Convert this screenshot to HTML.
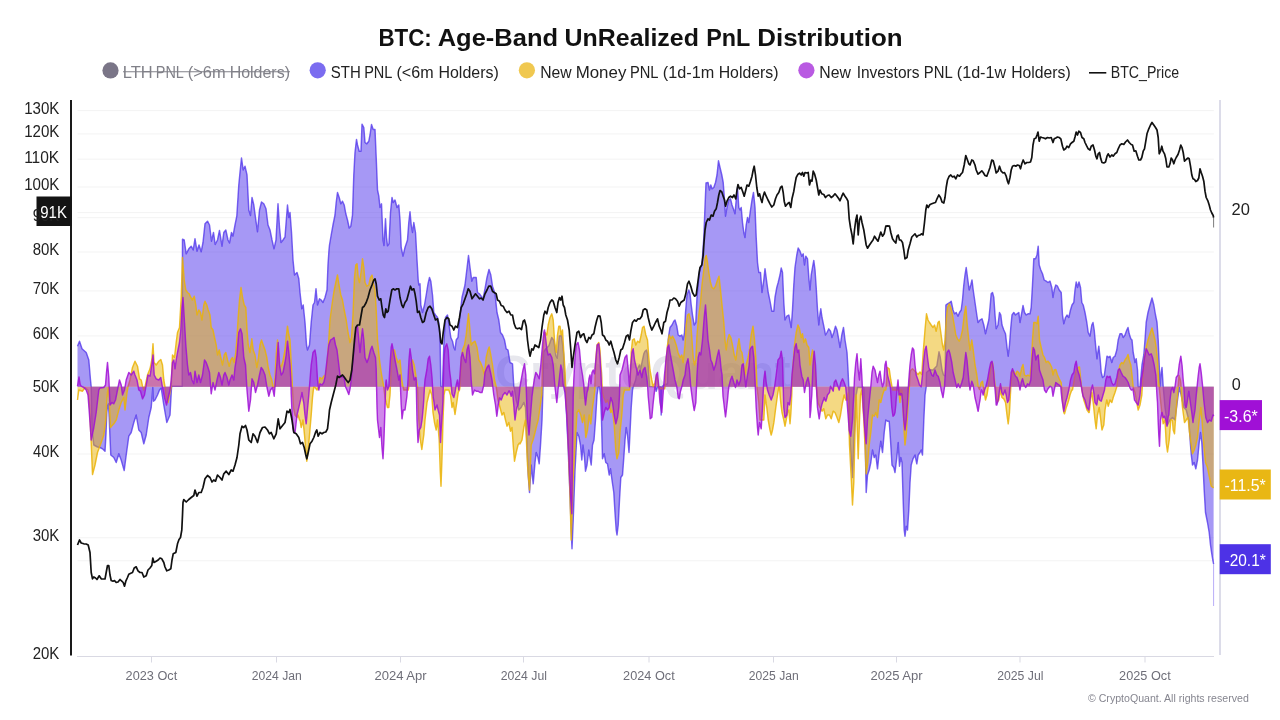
<!DOCTYPE html>
<html lang="en"><head><meta charset="utf-8"><title>BTC: Age-Band UnRealized PnL Distribution</title>
<style>
html,body{margin:0;padding:0;background:#fff;}
body{width:1280px;height:720px;position:relative;overflow:hidden;font-family:"Liberation Sans",sans-serif;}
</style></head><body>
<svg width="1280" height="720" viewBox="0 0 1280 720" style="position:absolute;left:0;top:0">
<rect width="1280" height="720" fill="#fff"/>
<line x1="77.5" x2="1213.8" y1="110.6" y2="110.6" stroke="#f3f3f3" stroke-width="1"/>
<line x1="77.5" x2="1213.8" y1="133.9" y2="133.9" stroke="#f3f3f3" stroke-width="1"/>
<line x1="77.5" x2="1213.8" y1="159.2" y2="159.2" stroke="#f3f3f3" stroke-width="1"/>
<line x1="77.5" x2="1213.8" y1="187.0" y2="187.0" stroke="#f3f3f3" stroke-width="1"/>
<line x1="77.5" x2="1213.8" y1="217.7" y2="217.7" stroke="#f3f3f3" stroke-width="1"/>
<line x1="77.5" x2="1213.8" y1="252.0" y2="252.0" stroke="#f3f3f3" stroke-width="1"/>
<line x1="77.5" x2="1213.8" y1="290.9" y2="290.9" stroke="#f3f3f3" stroke-width="1"/>
<line x1="77.5" x2="1213.8" y1="335.9" y2="335.9" stroke="#f3f3f3" stroke-width="1"/>
<line x1="77.5" x2="1213.8" y1="389.0" y2="389.0" stroke="#f3f3f3" stroke-width="1"/>
<line x1="77.5" x2="1213.8" y1="454.0" y2="454.0" stroke="#f3f3f3" stroke-width="1"/>
<line x1="77.5" x2="1213.8" y1="537.8" y2="537.8" stroke="#f3f3f3" stroke-width="1"/>
<line x1="77.5" x2="1213.8" y1="212.6" y2="212.6" stroke="#f3f3f3" stroke-width="1"/>
<line x1="77.5" x2="1213.8" y1="386.8" y2="386.8" stroke="#f3f3f3" stroke-width="1"/>
<line x1="77.5" x2="1213.8" y1="560.8" y2="560.8" stroke="#f3f3f3" stroke-width="1"/>
<text x="494.96" y="389.0" font-family="Liberation Sans, sans-serif" font-size="47.5" font-weight="bold" fill="#e7e7ed" textLength="295.56" lengthAdjust="spacingAndGlyphs">CryptoQuant</text>
<line x1="77" x2="1214" y1="656.5" y2="656.5" stroke="#d9d9e3" stroke-width="1.2"/>
<line x1="151.5" x2="151.5" y1="656.5" y2="662.5" stroke="#d9d9e3" stroke-width="1"/>
<line x1="276.5" x2="276.5" y1="656.5" y2="662.5" stroke="#d9d9e3" stroke-width="1"/>
<line x1="400.5" x2="400.5" y1="656.5" y2="662.5" stroke="#d9d9e3" stroke-width="1"/>
<line x1="523.5" x2="523.5" y1="656.5" y2="662.5" stroke="#d9d9e3" stroke-width="1"/>
<line x1="649.0" x2="649.0" y1="656.5" y2="662.5" stroke="#d9d9e3" stroke-width="1"/>
<line x1="773.5" x2="773.5" y1="656.5" y2="662.5" stroke="#d9d9e3" stroke-width="1"/>
<line x1="896.5" x2="896.5" y1="656.5" y2="662.5" stroke="#d9d9e3" stroke-width="1"/>
<line x1="1020.0" x2="1020.0" y1="656.5" y2="662.5" stroke="#d9d9e3" stroke-width="1"/>
<line x1="1145.0" x2="1145.0" y1="656.5" y2="662.5" stroke="#d9d9e3" stroke-width="1"/>
<line x1="1220" x2="1220" y1="100" y2="655" stroke="#d4d4e4" stroke-width="1.6"/>
<path d="M77.5,386.8 L77.5,346.2 79.5,341.2 82,348.8 86.2,352.5 88.8,360 90.5,380 91.2,386.8 92,430 93.8,445 97.5,447 100,447.5 102.5,448.8 105,451.2 106,433.8 106.8,412.5 107.5,406.2 108.5,403.8 109.2,417.5 110,437.5 110.8,455 113.8,457.5 116.2,462.5 118.8,453.8 121.2,460 124.2,470.5 126.2,455 128.8,436.2 131.2,432.5 133.8,422.5 136.2,415 138.8,430 141.2,432.5 143.8,443.8 146.2,435 148.8,417.5 151.2,407.5 152.2,395 152.8,387.5 153.5,401.2 155,400 157.5,395 159.5,390 161.2,388 163.8,405 166.8,422.5 170,415 171.5,387.5 172.2,386.2 182.2,386.2 182.5,239.2 184.2,240 186.2,253.8 188.8,248.8 191.2,246.2 193.2,250 195,238.8 197,251.2 199,245 201.2,251.8 203,242.5 205,223.8 207.5,221.2 209.5,225 211.5,241.2 213.5,232.5 215.2,244.5 217.5,240 219.5,230.5 222,246.2 223.8,232.5 225.8,230 228,240 229.5,243 231.5,232.5 233,236.2 235,225 236.8,216.2 238.8,185 240,172.5 241.5,158 243.2,170 245,166.2 247,175 248.8,210 250.5,215.5 252,197.5 253.8,205 255.8,220 257.5,231.8 259.5,210 261.5,202 263.8,203.8 266,208.8 268,225 270,230 272,240 274,248.8 276,240 278,203.8 279.5,227.5 281,242.5 283,240 285,237 287.5,205 288.8,217.5 290,212.5 291.5,232.5 293,260 294.5,275 297,272.5 298.8,278.8 300,292.5 301.8,308.8 303.2,305 305,322.5 306.5,345 307.5,350 309.5,345 311.2,322.5 313,305 314.5,302.5 316,288.8 317.5,305 319.5,298.8 321.2,300 323,302.5 325,297.5 327,290 328,265 329,250 329.5,245 331.2,235 333,225 335,215 336.2,202.5 337.5,192.5 339.2,197.5 340.8,203.8 342.5,201.2 344.2,205 345.8,213.8 347.5,220 349.2,228 350.8,226.2 352.5,215 353.8,175 355,152.5 356.5,139.5 357.5,145 359.2,151.2 361,151.2 362,124.2 363.8,127.5 365,142.5 366.8,143.8 368.8,141.2 370,135 371.5,124.5 373.2,129.5 375,129.5 376.2,157.5 377.5,190 378.8,196.2 380,207.5 381.5,203.8 383,240 384,245.5 385.5,218.8 386.5,237.5 387.5,245.8 389,243.8 390.5,212.5 392,197.5 393.2,202.5 395,200 397,207.5 398.8,205 400,220 401.2,247.5 403,256.2 405,247.5 407.5,240 408.8,222.5 410,211.8 411.2,225 412.5,232.5 413.8,222.5 415.5,232.5 417,260 418.2,280 418.8,285 420,283.8 420.8,305 422.5,312.5 424.5,305 426.2,295 428,283.8 429.5,277.5 430.8,281.2 432.5,295 433.8,312.5 435.5,315 437.5,317.5 438.8,322.5 440,335 440.8,386.2 442.5,386.8 443.8,345 445.5,317.5 447.5,315 449,325 450.8,337.5 452.5,341.2 453.8,347.5 455,350 456.2,340 458,337.5 460,315 462,297.5 463.8,290 465,285 466.8,270 468.5,255.5 470,267.5 471.8,281.2 473.2,277.5 476.2,277.5 477.5,292.5 479.5,293.8 481.2,296.2 483,298.8 485,288.8 487,277.5 489,269.5 490.8,275 492.5,286.2 495,293.8 497,312.5 498.8,320 500.5,332.5 502.5,335 504.5,340 506.2,348.8 508,350 510,362.5 512.5,363.8 513.8,386.8 514.2,387.5 516.2,400 518.8,410 521.2,407.5 523.8,402.5 525.5,407.5 527,445 528.2,475 529.5,492.5 531.2,465 533.2,483.8 535,462.5 536.2,452.5 538,457.5 539.2,463.8 540.5,445 542,420 543,386.8 543.5,352 546,348.5 548.9,345.8 551.7,337.5 553.8,340.3 555.8,355.5 557.2,358.3 559.3,336 561.4,335.4 562.8,345.8 563.6,354 564.3,372 564.9,384 565,387.5 566.2,407.5 568,445 570,495 571.2,530 572,548.8 573.2,520 575,470 577,432.5 578.8,436.2 580.5,445 581.8,460 583,445 584.5,457.5 585.5,471.2 587,465 588.8,450 590,457.5 591.2,465 592.5,445 594,440 595.5,420 597,395 598.2,386.8 599.5,386.8 600.5,395 601.5,420 602.5,458.8 604.2,453.8 605.8,462.5 607.5,463.8 609.2,475 610.5,468.8 612,480 613.8,492.5 615,512.5 616.2,530 617,535 618.2,525 619.5,500 620.8,477.5 622.5,475 623.8,457.5 625,440 626.2,427.5 627.5,435 629,452.5 630,432.5 631.2,407.5 632.5,390 633.2,386.8 633.8,385 635.6,380 637.5,368.8 639.4,365 640.6,368.8 642.5,360 643.8,353.8 645,351.2 646.5,350 647.5,353.8 648.5,370 649.6,386.6 653.5,386.6 655,386.8 656.2,391.2 657.5,386.8 660.5,386.8 661.2,415 662,386.8 663.8,385 667.5,383.8 668.2,340 668.8,335 670,327.5 672,325 673.8,321.2 675,320 676.8,326.2 678.2,335 680,336.2 681.8,335 683.2,340 684.5,332.5 685.5,312.5 687,295 688.8,290 690,293.8 691.2,305 692.5,315 694.2,325 695.8,322.5 697,297 699.5,271 702,264 703.8,238 705,207 706,183 708,182.5 709.5,190 710.8,185 712,188.8 713.8,187.5 715.5,182.5 717,175 718.5,160.8 720,167.5 721.8,175 723.2,182.5 724.5,200 725.5,216.2 727,207.5 728.8,200 730.5,198.8 732,205 733.8,210 735,213.8 736.2,200 737.5,187.5 738.8,207.5 740,210 741.2,207.5 742.5,222.5 743.8,232.5 745,237.5 746.2,225 747.5,217.5 748.8,222.5 750.5,210 752,200 753.5,192.5 755,207.5 756.2,237.5 757.5,262.5 758.8,272.5 760.5,272.5 762,292.5 763.8,280 765,268.8 766.8,282.5 768.2,292.5 770,301.2 771.8,311.2 773.8,311.2 775,297.5 776.8,287.5 778.2,282.5 780,275 781.2,268 782.5,272.5 783.8,302.5 785,320 786.8,316.2 788.8,315 790,321.2 791.2,327.5 792.5,310 793.8,285 795,267.5 796.8,255 798.2,248 800,251.2 801.8,256.2 803.2,253.8 804.5,265 805.8,256.2 807.5,258.8 808.8,277.5 810,290 811.2,275 812.5,267.5 813.8,260.5 815,270 816.2,287.5 817.5,310 818.8,325 820,313.8 820.8,308.8 822,317.5 823.8,326.2 825.5,335 827,332.5 828.8,328.8 830.5,331.2 832,337.5 833.8,332.5 835.5,326.2 837,330 838.8,340 840,347.5 841.8,335 843.5,327.5 845,340 847,352.5 848,370 848.8,386.8 849.5,432.5 852.5,477.5 853.8,445 856.2,395 857.5,387.5 863.8,387.5 865,432.5 866.2,492.5 867.5,475 869.2,470 870.8,462.5 872.5,450 874.2,457.5 875.8,455 877.5,468.8 879.2,452.5 880.8,441.2 882.5,452.5 884.2,432.5 885.8,420 887.5,421.2 889.2,421.2 890.5,440 892,465 893.8,467.5 895,472.5 896.8,457.5 898.2,442.5 899.5,466.2 900.8,457.5 902,462.5 903,495 904.2,530 905,536.2 906.2,526.2 907.5,530 908.8,510 910,482.5 911.2,465 913,458.8 915,455 916.8,463.8 918.2,455 920,452.5 921.2,450 922.5,455 923.8,420 925,395 926.2,386.8 926.5,372.5 929.5,369.8 933,370 936.8,366 939,351.8 940.2,357 942,369.8 943.5,375 945.2,376 945.9,305 947.5,303.8 950,302.5 951.2,301.2 953,310 954.5,313.8 956.2,312.5 958,316.2 959.5,312.5 961.2,310 962.5,300 963.8,285 965,275 966.2,267.5 967.5,277.5 969.2,290 970.8,285 972,280 973.2,290 975,302.5 976.8,315 978,322.5 980,320 982,318.8 983.8,325 985.5,333.8 987,327.5 988.8,320 990,307.5 991.2,293.8 992.5,292.5 993.8,297.5 995,315 996.2,328.8 998,325 999.5,312.5 1000.8,315 1002,325 1003.8,330 1005.5,333.8 1007,347.5 1008.2,356.2 1009.5,345 1010.8,327.5 1012,315 1013.8,312.5 1015.5,315 1017,313.8 1018.8,312.5 1020,322.5 1021.8,312.5 1023,305.5 1024.5,312.5 1026.2,315 1028,313.8 1030,313.8 1031.2,307.5 1032.5,285 1033.8,258.8 1035.5,258.8 1037,255 1038.2,246.2 1039.2,265 1040.8,270 1042.5,273.8 1044.2,280 1046.2,281.2 1048,282.5 1050,281.2 1051.8,287.5 1053,297.5 1054.2,290 1055.8,285 1057.5,286.2 1059.2,290 1061.2,292.5 1062.5,315 1063.8,323.8 1065.5,317.5 1067,315 1068.8,317.5 1070.5,310 1072,305 1073.8,302.5 1075,290 1076.2,282 1077.5,287.5 1079,282 1080.5,287.5 1081.8,302.5 1083.2,305 1085,312.5 1086.8,322.5 1088.2,332.5 1090,336.2 1091.8,325 1093,322.5 1094.2,330 1095.8,347.5 1097,358.8 1098.8,346.2 1100,357.5 1101.2,372.5 1102.5,377.5 1104.2,376.2 1105.8,365 1107,356.2 1108.8,357.5 1110,356.2 1111.8,362.5 1113.2,357.5 1115,356.2 1116.8,350 1118.2,340 1120,333.8 1121.8,333.8 1123.2,337.5 1125,335 1126.8,330 1128,327.5 1129.2,333.8 1130.8,338.8 1132,340 1133.2,352.5 1135,362.5 1136.2,358.8 1137.5,370 1138.2,386.8 1140,386.8 1142,365 1143.8,355 1145,340 1146.2,322.5 1148,312.5 1150,305 1152,298 1153.8,305 1155.5,315 1157,322.5 1158.2,340 1159.2,365 1160,386.8 1161.2,372.5 1162,367.5 1163.2,386.8 1165,407.5 1167.5,425 1170,420 1172.5,417.5 1175,420 1177.5,400 1179.2,387.5 1181.2,395 1183.8,407.5 1186.2,410 1188.8,420 1190.5,445 1191.2,453.8 1192.5,465 1194.2,462.5 1195.8,468.8 1197.5,460 1199.2,442.5 1200.5,432.5 1201.8,442.5 1203,465 1204.2,490 1205.5,512.5 1207.5,522.5 1209.2,532.5 1210.5,545 1211.8,553.8 1212.8,560 1213.6,563.8 L1213.6,386.8 Z" fill="#4d31eb" fill-opacity="0.5" stroke="none"/>
<path d="M77.5,346.2 79.5,341.2 82,348.8 86.2,352.5 88.8,360 90.5,380 91.2,386.8 92,430 93.8,445 97.5,447 100,447.5 102.5,448.8 105,451.2 106,433.8 106.8,412.5 107.5,406.2 108.5,403.8 109.2,417.5 110,437.5 110.8,455 113.8,457.5 116.2,462.5 118.8,453.8 121.2,460 124.2,470.5 126.2,455 128.8,436.2 131.2,432.5 133.8,422.5 136.2,415 138.8,430 141.2,432.5 143.8,443.8 146.2,435 148.8,417.5 151.2,407.5 152.2,395 152.8,387.5 153.5,401.2 155,400 157.5,395 159.5,390 161.2,388 163.8,405 166.8,422.5 170,415 171.5,387.5 172.2,386.2 182.2,386.2 182.5,239.2 184.2,240 186.2,253.8 188.8,248.8 191.2,246.2 193.2,250 195,238.8 197,251.2 199,245 201.2,251.8 203,242.5 205,223.8 207.5,221.2 209.5,225 211.5,241.2 213.5,232.5 215.2,244.5 217.5,240 219.5,230.5 222,246.2 223.8,232.5 225.8,230 228,240 229.5,243 231.5,232.5 233,236.2 235,225 236.8,216.2 238.8,185 240,172.5 241.5,158 243.2,170 245,166.2 247,175 248.8,210 250.5,215.5 252,197.5 253.8,205 255.8,220 257.5,231.8 259.5,210 261.5,202 263.8,203.8 266,208.8 268,225 270,230 272,240 274,248.8 276,240 278,203.8 279.5,227.5 281,242.5 283,240 285,237 287.5,205 288.8,217.5 290,212.5 291.5,232.5 293,260 294.5,275 297,272.5 298.8,278.8 300,292.5 301.8,308.8 303.2,305 305,322.5 306.5,345 307.5,350 309.5,345 311.2,322.5 313,305 314.5,302.5 316,288.8 317.5,305 319.5,298.8 321.2,300 323,302.5 325,297.5 327,290 328,265 329,250 329.5,245 331.2,235 333,225 335,215 336.2,202.5 337.5,192.5 339.2,197.5 340.8,203.8 342.5,201.2 344.2,205 345.8,213.8 347.5,220 349.2,228 350.8,226.2 352.5,215 353.8,175 355,152.5 356.5,139.5 357.5,145 359.2,151.2 361,151.2 362,124.2 363.8,127.5 365,142.5 366.8,143.8 368.8,141.2 370,135 371.5,124.5 373.2,129.5 375,129.5 376.2,157.5 377.5,190 378.8,196.2 380,207.5 381.5,203.8 383,240 384,245.5 385.5,218.8 386.5,237.5 387.5,245.8 389,243.8 390.5,212.5 392,197.5 393.2,202.5 395,200 397,207.5 398.8,205 400,220 401.2,247.5 403,256.2 405,247.5 407.5,240 408.8,222.5 410,211.8 411.2,225 412.5,232.5 413.8,222.5 415.5,232.5 417,260 418.2,280 418.8,285 420,283.8 420.8,305 422.5,312.5 424.5,305 426.2,295 428,283.8 429.5,277.5 430.8,281.2 432.5,295 433.8,312.5 435.5,315 437.5,317.5 438.8,322.5 440,335 440.8,386.2 442.5,386.8 443.8,345 445.5,317.5 447.5,315 449,325 450.8,337.5 452.5,341.2 453.8,347.5 455,350 456.2,340 458,337.5 460,315 462,297.5 463.8,290 465,285 466.8,270 468.5,255.5 470,267.5 471.8,281.2 473.2,277.5 476.2,277.5 477.5,292.5 479.5,293.8 481.2,296.2 483,298.8 485,288.8 487,277.5 489,269.5 490.8,275 492.5,286.2 495,293.8 497,312.5 498.8,320 500.5,332.5 502.5,335 504.5,340 506.2,348.8 508,350 510,362.5 512.5,363.8 513.8,386.8 514.2,387.5 516.2,400 518.8,410 521.2,407.5 523.8,402.5 525.5,407.5 527,445 528.2,475 529.5,492.5 531.2,465 533.2,483.8 535,462.5 536.2,452.5 538,457.5 539.2,463.8 540.5,445 542,420 543,386.8 543.5,352 546,348.5 548.9,345.8 551.7,337.5 553.8,340.3 555.8,355.5 557.2,358.3 559.3,336 561.4,335.4 562.8,345.8 563.6,354 564.3,372 564.9,384 565,387.5 566.2,407.5 568,445 570,495 571.2,530 572,548.8 573.2,520 575,470 577,432.5 578.8,436.2 580.5,445 581.8,460 583,445 584.5,457.5 585.5,471.2 587,465 588.8,450 590,457.5 591.2,465 592.5,445 594,440 595.5,420 597,395 598.2,386.8 599.5,386.8 600.5,395 601.5,420 602.5,458.8 604.2,453.8 605.8,462.5 607.5,463.8 609.2,475 610.5,468.8 612,480 613.8,492.5 615,512.5 616.2,530 617,535 618.2,525 619.5,500 620.8,477.5 622.5,475 623.8,457.5 625,440 626.2,427.5 627.5,435 629,452.5 630,432.5 631.2,407.5 632.5,390 633.2,386.8 633.8,385 635.6,380 637.5,368.8 639.4,365 640.6,368.8 642.5,360 643.8,353.8 645,351.2 646.5,350 647.5,353.8 648.5,370 649.6,386.6 653.5,386.6 655,386.8 656.2,391.2 657.5,386.8 660.5,386.8 661.2,415 662,386.8 663.8,385 667.5,383.8 668.2,340 668.8,335 670,327.5 672,325 673.8,321.2 675,320 676.8,326.2 678.2,335 680,336.2 681.8,335 683.2,340 684.5,332.5 685.5,312.5 687,295 688.8,290 690,293.8 691.2,305 692.5,315 694.2,325 695.8,322.5 697,297 699.5,271 702,264 703.8,238 705,207 706,183 708,182.5 709.5,190 710.8,185 712,188.8 713.8,187.5 715.5,182.5 717,175 718.5,160.8 720,167.5 721.8,175 723.2,182.5 724.5,200 725.5,216.2 727,207.5 728.8,200 730.5,198.8 732,205 733.8,210 735,213.8 736.2,200 737.5,187.5 738.8,207.5 740,210 741.2,207.5 742.5,222.5 743.8,232.5 745,237.5 746.2,225 747.5,217.5 748.8,222.5 750.5,210 752,200 753.5,192.5 755,207.5 756.2,237.5 757.5,262.5 758.8,272.5 760.5,272.5 762,292.5 763.8,280 765,268.8 766.8,282.5 768.2,292.5 770,301.2 771.8,311.2 773.8,311.2 775,297.5 776.8,287.5 778.2,282.5 780,275 781.2,268 782.5,272.5 783.8,302.5 785,320 786.8,316.2 788.8,315 790,321.2 791.2,327.5 792.5,310 793.8,285 795,267.5 796.8,255 798.2,248 800,251.2 801.8,256.2 803.2,253.8 804.5,265 805.8,256.2 807.5,258.8 808.8,277.5 810,290 811.2,275 812.5,267.5 813.8,260.5 815,270 816.2,287.5 817.5,310 818.8,325 820,313.8 820.8,308.8 822,317.5 823.8,326.2 825.5,335 827,332.5 828.8,328.8 830.5,331.2 832,337.5 833.8,332.5 835.5,326.2 837,330 838.8,340 840,347.5 841.8,335 843.5,327.5 845,340 847,352.5 848,370 848.8,386.8 849.5,432.5 852.5,477.5 853.8,445 856.2,395 857.5,387.5 863.8,387.5 865,432.5 866.2,492.5 867.5,475 869.2,470 870.8,462.5 872.5,450 874.2,457.5 875.8,455 877.5,468.8 879.2,452.5 880.8,441.2 882.5,452.5 884.2,432.5 885.8,420 887.5,421.2 889.2,421.2 890.5,440 892,465 893.8,467.5 895,472.5 896.8,457.5 898.2,442.5 899.5,466.2 900.8,457.5 902,462.5 903,495 904.2,530 905,536.2 906.2,526.2 907.5,530 908.8,510 910,482.5 911.2,465 913,458.8 915,455 916.8,463.8 918.2,455 920,452.5 921.2,450 922.5,455 923.8,420 925,395 926.2,386.8 926.5,372.5 929.5,369.8 933,370 936.8,366 939,351.8 940.2,357 942,369.8 943.5,375 945.2,376 945.9,305 947.5,303.8 950,302.5 951.2,301.2 953,310 954.5,313.8 956.2,312.5 958,316.2 959.5,312.5 961.2,310 962.5,300 963.8,285 965,275 966.2,267.5 967.5,277.5 969.2,290 970.8,285 972,280 973.2,290 975,302.5 976.8,315 978,322.5 980,320 982,318.8 983.8,325 985.5,333.8 987,327.5 988.8,320 990,307.5 991.2,293.8 992.5,292.5 993.8,297.5 995,315 996.2,328.8 998,325 999.5,312.5 1000.8,315 1002,325 1003.8,330 1005.5,333.8 1007,347.5 1008.2,356.2 1009.5,345 1010.8,327.5 1012,315 1013.8,312.5 1015.5,315 1017,313.8 1018.8,312.5 1020,322.5 1021.8,312.5 1023,305.5 1024.5,312.5 1026.2,315 1028,313.8 1030,313.8 1031.2,307.5 1032.5,285 1033.8,258.8 1035.5,258.8 1037,255 1038.2,246.2 1039.2,265 1040.8,270 1042.5,273.8 1044.2,280 1046.2,281.2 1048,282.5 1050,281.2 1051.8,287.5 1053,297.5 1054.2,290 1055.8,285 1057.5,286.2 1059.2,290 1061.2,292.5 1062.5,315 1063.8,323.8 1065.5,317.5 1067,315 1068.8,317.5 1070.5,310 1072,305 1073.8,302.5 1075,290 1076.2,282 1077.5,287.5 1079,282 1080.5,287.5 1081.8,302.5 1083.2,305 1085,312.5 1086.8,322.5 1088.2,332.5 1090,336.2 1091.8,325 1093,322.5 1094.2,330 1095.8,347.5 1097,358.8 1098.8,346.2 1100,357.5 1101.2,372.5 1102.5,377.5 1104.2,376.2 1105.8,365 1107,356.2 1108.8,357.5 1110,356.2 1111.8,362.5 1113.2,357.5 1115,356.2 1116.8,350 1118.2,340 1120,333.8 1121.8,333.8 1123.2,337.5 1125,335 1126.8,330 1128,327.5 1129.2,333.8 1130.8,338.8 1132,340 1133.2,352.5 1135,362.5 1136.2,358.8 1137.5,370 1138.2,386.8 1140,386.8 1142,365 1143.8,355 1145,340 1146.2,322.5 1148,312.5 1150,305 1152,298 1153.8,305 1155.5,315 1157,322.5 1158.2,340 1159.2,365 1160,386.8 1161.2,372.5 1162,367.5 1163.2,386.8 1165,407.5 1167.5,425 1170,420 1172.5,417.5 1175,420 1177.5,400 1179.2,387.5 1181.2,395 1183.8,407.5 1186.2,410 1188.8,420 1190.5,445 1191.2,453.8 1192.5,465 1194.2,462.5 1195.8,468.8 1197.5,460 1199.2,442.5 1200.5,432.5 1201.8,442.5 1203,465 1204.2,490 1205.5,512.5 1207.5,522.5 1209.2,532.5 1210.5,545 1211.8,553.8 1212.8,560 1213.6,563.8" fill="none" stroke="#4d31eb" stroke-opacity="0.75" stroke-width="1.45" stroke-linejoin="round"/>
<line x1="1213.6" x2="1213.6" y1="563" y2="606" stroke="#4d31eb" stroke-opacity="0.4" stroke-width="1"/>
<line x1="1213.6" x2="1213.6" y1="217" y2="227.5" stroke="#111" stroke-opacity="0.55" stroke-width="1"/>
<path d="M77.5,386.8 L77.5,400 78.8,390 82.5,391.2 85,387.5 88,390 89.5,405 91.2,442.5 92.5,474.5 95,465 97.5,452.5 101.2,442.5 103.8,435 105.8,420 106.8,400 107.5,392.5 108.5,387.5 109.5,407 110.5,427.5 111.5,426.2 113.8,423.8 116.2,420 118.8,410 121.2,402.5 123.8,397.5 125,410 127,392.5 128,386.8 130,380 132.5,367.5 135,361.2 137.5,366.2 139.5,378.8 141.2,380 142.5,386.2 143.8,390 145,386.8 147.5,375 150,368.8 151.8,360 153,343.8 154,362.5 156.2,365 158.8,361.2 160.8,359.5 162.5,365 163.8,380 165,386.8 166.2,397.5 168,402.5 170,392.5 171.2,386.8 172.5,355 174.5,357.5 176.2,342.5 177.5,332.5 179.5,327.5 181.2,297.5 182.5,257.5 184.2,280 185.8,290 187.5,292.5 189.2,293.8 190.8,297.5 192.5,300 194.2,296.2 195.8,305 197,315 198.8,310 200.5,312.5 202,320 203.8,305 205,301.2 206.8,305 208.2,310 210,315 211.2,327.5 213,330 214.5,337.5 216.2,345 217.5,355 219.2,350 220.8,357.5 222.5,365 224.2,355 225.8,352.5 227.5,360 229.2,366.2 230.8,360 232.5,357.5 234.2,362.5 235.8,352.5 237,337.5 238.2,317.5 239.5,300 241,287.5 242.5,297.5 244.2,305 245.8,307.5 247,330 248.2,345 250,352.5 251.8,338.8 253.2,350 255,355 256.8,367.5 258.2,360 260,345 261.5,340 263.2,345 265,350 266.8,357.5 268.2,367.5 270,375 271.8,380 273.2,387.5 274.5,386.8 276.2,355 277.5,340 278.8,352.5 280,367.5 281.8,365 283.2,360 285,350 286.2,337.5 287.5,326.2 288.8,335 290,340 291.2,362.5 292.2,381.9 292.5,390.9 292.8,395 293.5,407.5 294.2,411.2 295,415 296.2,416.6 297,417.5 298,415 298.8,417.5 299.5,420 300,420 301.2,427.5 303,420 304.5,435 305.8,450 306.8,461.2 308,452.5 309.5,435 311.2,415 312.5,397.5 313.2,391.1 313.8,386.8 315,387.5 317,390 317.5,388.7 318.2,389.4 318.8,384.1 320,377.5 322,378.8 323.8,376.2 325.5,375 327,365 328.8,340 330,320 332,305 333.8,292.5 335.8,282.5 337.5,275 339,285 340.8,295 342.5,300 344.2,310 346.2,320 348,332.5 350,342.5 351.5,337.5 353,315 354.5,277.5 355.8,265 357,263.8 358.2,277.5 359.5,282.5 361,272.5 362.5,258.8 363.8,267.5 365,282.5 366.8,286.2 368.8,285 370.5,277.5 372,275 373.8,285 375,290 376.2,310 377.5,340 379.5,360 381.2,372.5 382.5,380 383.8,386.8 385,397.5 386.2,402.5 387,405.5 387.5,407.5 388.8,407.5 389.2,402.5 390,395 390.8,377 391.2,365 392.5,350 394.5,350 396.2,357.5 398,362.5 400,360 401.8,380 403,386.8 403.8,390 408.2,390 408.8,386.8 410,365 412.5,360 414.2,365 415.8,375 417.5,386.8 418,400.1 418.8,420 420,437.5 421.8,449.5 423.8,435 425,420 427,402.5 428.8,395 430,390 431.8,395 433,412.5 434.5,422.5 436.2,430 437.5,420 439.2,440 440.2,470 441,486.2 442,457.5 443,420 444,395 445,390 447,390 448.8,390 450.5,395 452,407.5 453.2,402.5 455,414.5 456.8,402.5 458.2,392.5 459.5,390 460,386.8 461.2,360 462.5,350 464.5,345 466.2,335 467.5,322.5 468.5,313.8 469.5,325 471.2,345 473,342.5 475,341.2 477,347.5 478.8,360 480.5,362.5 482.5,367.5 484.5,375 486.2,357.5 488,350 489.2,347 490.8,355 492.5,365 494.5,380 496.2,386.8 496.8,390.5 498,400 500,407.5 502,415 503.8,412.5 505.5,420 507,426.2 508.8,422.5 510.5,431.2 512,427.5 513.2,445 514.5,461.2 516.2,452.5 518,445 519.5,443 520,443.8 522,440 523.8,427.5 525.5,420 527.5,465 529.5,490 531.2,445 533,440 535,432.5 536.8,425 538.2,420 540,407.5 541.2,398.6 541.8,395 542.5,360 543,352 543.8,340 545,332.5 546.8,335 548.2,325 550,317.5 551.8,313.8 553.2,320 554.5,340 556.2,352.5 557.5,335 558.8,326.2 560,326.2 561.2,335 562.5,330 563.8,352.5 565,370 566.2,403.4 566.8,410 567.5,420 570,495 571.2,540 573,482.5 575,445 577,412.5 578.8,410 580.8,415 582.5,422.5 584.2,415 585.8,437.5 587.5,430 589.2,415 590.8,423.8 592.5,407.5 594,396.8 594.2,395 594.8,390.3 595.1,376.9 595.8,360 597,345 598.8,342.5 600,350 601.2,370 602.5,392.1 603,394.3 603.8,397.5 605.8,402.5 607.5,400 609.2,405 610.8,412.5 612.5,410 614.2,425 615.8,450 617,458.8 618.8,452.5 620,432.5 621.8,415 623.2,395 624.5,390 629.5,390 630,386.8 631.2,352.5 632.5,340 634.2,338.8 635.8,345 637.5,341.2 639.5,342.5 641.2,335 642.5,327.5 644,326.2 645.8,335 647.5,340 648.8,357.5 650,370 651.8,380 653.2,386.8 655,382.5 656.8,375 658.8,386.8 659.2,388.8 664.5,388.8 665,386.8 666.2,360 667.5,345 669.2,335 670.8,338.8 672.5,336.2 674.5,340 676.2,345 678,352.5 680,357.5 681.8,355 683.2,362.5 685,345 686.2,325 687.5,315 689,313.8 690.5,320 692,340 693.2,357.5 694.5,365 695.8,360 697,335 698.8,315 700.5,302.5 702,285 703.8,270 705.2,258 706.2,255.5 707.5,262.5 708.8,272.5 710.5,282.5 712,287.5 713.8,288.8 715.5,286.2 717.5,280 719,276.2 720.5,290 722,305 723.8,322.5 725,340 726.2,350 727.5,340 729.2,334.5 730.8,337.5 732.5,345 734.2,355 735.8,360 737.5,347.5 739,338.8 740.5,350 742,352.5 743.8,365 745,375 746.2,365 748,357.5 749.5,350 750,345 751.2,335 753,326.2 754.5,340 755.8,357.5 757,386.8 758.8,402.5 760,420 763.8,420 765,395 766.2,403.9 766.8,407.5 768,417.9 768.2,420 770,430 771.2,435 772,432 772.5,430 773.8,422.9 774.2,420 775.5,409.6 775.8,407.5 777.5,395 778.8,387 779.5,386.8 780.5,400 781.2,406.2 782,412.5 782.5,414.6 783.8,420 785,426.2 786.2,420 787.5,412.5 788.8,410 790,423.8 790.8,414 791.2,407.5 791.8,393.7 792,382.4 793,365 794.5,345 796.2,332.5 798,325 799.5,328.8 801.2,337.5 802.5,333.8 803.8,342.5 805.5,338.8 807,345 808.8,347.5 810,365 811.2,357.5 812.5,350 813.8,355 815,365 816.2,386.8 816.8,390.5 818,402.5 820,407.5 822,411.2 823.8,408.8 825.8,418.8 827.5,415 829.5,415 831.2,418.8 833.2,411.2 835,412.5 837,417.5 838.8,422.5 840.5,415 842.5,402.5 844.2,395 845.8,400 847,400 848.2,392.9 848.8,413.5 849.5,445 851.2,477.5 852.5,505 853.8,482.5 855,432.5 856.2,395 857,420 858.2,458.8 859.5,420 860.5,395 861.8,390 863.8,420 865,445 866.2,473.8 867.5,465 869.2,445 870.8,432.5 872.5,415 874.2,416.2 875.8,412.5 877.5,417.5 879.2,400 880.8,402.5 882.5,395 884.2,390 885,390 885.8,390 886.2,386.8 887.5,367.5 889.2,368.8 890.8,380 892,386.8 892.5,390 898.8,390 900,402.5 900.8,390 901.8,390 903,407.5 904.2,432.5 905,445 906.2,435 907.5,415 908,407 908.8,395 909,393.4 910,373.7 910.5,370.5 912.5,368.8 915,371.2 918,374.5 920,372 921.8,374.5 923.2,352.5 925,330 926.5,313.8 928,320 929.5,322.5 931.2,325 933,327.5 934.5,325 936.2,331.2 938,322.5 939.2,321.2 940.8,332.5 942.5,345 943.8,350 945,340 946.2,320 947.5,307.5 949.2,303.8 950.8,307.5 952.5,315 954.2,325 955.8,335 957.5,338.8 959.2,341.2 960.8,337.5 962.5,330 964.2,315 965.8,306.2 967,322.5 968.8,340 970,350 971.8,340 973.2,350 975,365 976.8,375 978.2,386.8 979.5,389.5 980,386.8 981.2,382.5 982.5,381.2 983.8,390 985,397.1 985.5,400 986.2,397.5 987,395 987.5,391.7 988.2,386.8 990,372.5 991.2,363.8 992.5,362.5 993.8,372.5 995,385 995.5,387 996.2,394.6 997,402.5 997.5,401.8 998.8,400 999.2,397.1 1000,392.9 1000.5,385.5 1001.2,393.8 1002,397.5 1002.5,397.9 1003.8,398.8 1004.2,399.8 1005.5,402.5 1005.8,404.6 1007,415 1008.2,423.8 1009.5,412.5 1010.8,386.8 1012,372.5 1013.8,371.2 1015.5,375 1017,371.2 1018.8,372.5 1020,376.2 1021.8,367.5 1023,364.5 1024.5,375 1026.2,376.2 1028,375 1030,376.2 1031.2,365 1032.5,340 1033.8,322.5 1035.5,322.5 1037,323.8 1038.2,316.2 1039.5,340 1041.2,347.5 1043,355 1044.5,357.5 1046.2,362.5 1048,361.2 1050,363.8 1051.8,367.5 1053,375 1054.2,370 1055.8,369.5 1057.5,375 1059.2,378.8 1061.2,382.5 1062,393 1062.5,400 1063.2,407.5 1063.8,412.5 1064.5,413.8 1065.5,410.2 1066.2,407.5 1067,405.4 1068,402.5 1068.8,399.7 1070,395 1070.5,393.6 1071.8,390 1072.5,390 1073.2,385.7 1074.2,380 1076.2,370 1078,367.5 1079.5,367 1080.8,380 1081.2,384 1082,390.3 1083,395.7 1083.8,400 1085,403.6 1085.5,405 1087,410 1087.5,410.7 1088.8,412.5 1089.2,412.5 1090,405 1090.8,397.5 1091.8,392.5 1092,394.2 1093.2,402.5 1095,420 1096.2,428.8 1097.5,415 1099.2,407.5 1100.8,420 1101.2,424 1102,430 1103,427.1 1103.8,425 1105,410 1106.2,402.9 1106.8,400 1108,405.2 1108.2,406.2 1109.5,401.8 1110,400 1111.2,401.8 1111.8,402.5 1113,398.3 1113.2,397.5 1115,392.5 1116.8,386.8 1118.2,372.5 1120,365 1121.8,362.5 1123.2,363.8 1125,360 1126.8,357.5 1128,354.5 1129.2,360 1130.8,365 1132,375 1133,385 1133.2,387.5 1135,392.5 1136.8,402.5 1138.2,410 1140,405 1141.8,395 1143,375 1144.5,357.5 1146.2,347.5 1148,340 1150,333.8 1152,328 1153.8,335 1155,340 1156.2,347.5 1157.5,360 1158.8,382.5 1160,395 1161.8,412.5 1163.2,423.8 1165,420 1166.2,442.5 1167.5,452 1169.2,440 1170.8,420 1172,420 1172.5,421 1173.2,430 1174.5,433.8 1175.8,415 1176.2,409.3 1177.5,395 1179,375.5 1179.2,376.3 1180.5,380.5 1180.8,382.9 1181.5,395.6 1182.5,407.5 1184.5,422.5 1186.2,420 1188,417.5 1188.8,425 1189.5,432.5 1190.5,439.6 1191.2,445 1192.5,453.8 1194.2,450 1195.8,445 1196.2,442.9 1197.5,437.5 1199.2,420 1199.5,417.9 1200.8,407.5 1202,420 1203.8,445 1205,457.5 1205.5,462.5 1207.5,467.5 1209.5,477.5 1211.2,486.2 1213,487.5 1213.8,487.5 L1213.8,386.8 Z" fill="#eab308" fill-opacity="0.5" stroke="none"/>
<path d="M77.5,400 78.8,390 82.5,391.2 85,387.5 88,390 89.5,405 91.2,442.5 92.5,474.5 95,465 97.5,452.5 101.2,442.5 103.8,435 105.8,420 106.8,400 107.5,392.5 108.5,387.5 109.5,407 110.5,427.5 111.5,426.2 113.8,423.8 116.2,420 118.8,410 121.2,402.5 123.8,397.5 125,410 127,392.5 128,386.8 130,380 132.5,367.5 135,361.2 137.5,366.2 139.5,378.8 141.2,380 142.5,386.2 143.8,390 145,386.8 147.5,375 150,368.8 151.8,360 153,343.8 154,362.5 156.2,365 158.8,361.2 160.8,359.5 162.5,365 163.8,380 165,386.8 166.2,397.5 168,402.5 170,392.5 171.2,386.8 172.5,355 174.5,357.5 176.2,342.5 177.5,332.5 179.5,327.5 181.2,297.5 182.5,257.5 184.2,280 185.8,290 187.5,292.5 189.2,293.8 190.8,297.5 192.5,300 194.2,296.2 195.8,305 197,315 198.8,310 200.5,312.5 202,320 203.8,305 205,301.2 206.8,305 208.2,310 210,315 211.2,327.5 213,330 214.5,337.5 216.2,345 217.5,355 219.2,350 220.8,357.5 222.5,365 224.2,355 225.8,352.5 227.5,360 229.2,366.2 230.8,360 232.5,357.5 234.2,362.5 235.8,352.5 237,337.5 238.2,317.5 239.5,300 241,287.5 242.5,297.5 244.2,305 245.8,307.5 247,330 248.2,345 250,352.5 251.8,338.8 253.2,350 255,355 256.8,367.5 258.2,360 260,345 261.5,340 263.2,345 265,350 266.8,357.5 268.2,367.5 270,375 271.8,380 273.2,387.5 274.5,386.8 276.2,355 277.5,340 278.8,352.5 280,367.5 281.8,365 283.2,360 285,350 286.2,337.5 287.5,326.2 288.8,335 290,340 291.2,362.5 292.2,381.9 292.5,390.9 292.8,395 293.5,407.5 294.2,411.2 295,415 296.2,416.6 297,417.5 298,415 298.8,417.5 299.5,420 300,420 301.2,427.5 303,420 304.5,435 305.8,450 306.8,461.2 308,452.5 309.5,435 311.2,415 312.5,397.5 313.2,391.1 313.8,386.8 315,387.5 317,390 317.5,388.7 318.2,389.4 318.8,384.1 320,377.5 322,378.8 323.8,376.2 325.5,375 327,365 328.8,340 330,320 332,305 333.8,292.5 335.8,282.5 337.5,275 339,285 340.8,295 342.5,300 344.2,310 346.2,320 348,332.5 350,342.5 351.5,337.5 353,315 354.5,277.5 355.8,265 357,263.8 358.2,277.5 359.5,282.5 361,272.5 362.5,258.8 363.8,267.5 365,282.5 366.8,286.2 368.8,285 370.5,277.5 372,275 373.8,285 375,290 376.2,310 377.5,340 379.5,360 381.2,372.5 382.5,380 383.8,386.8 385,397.5 386.2,402.5 387,405.5 387.5,407.5 388.8,407.5 389.2,402.5 390,395 390.8,377 391.2,365 392.5,350 394.5,350 396.2,357.5 398,362.5 400,360 401.8,380 403,386.8 403.8,390 408.2,390 408.8,386.8 410,365 412.5,360 414.2,365 415.8,375 417.5,386.8 418,400.1 418.8,420 420,437.5 421.8,449.5 423.8,435 425,420 427,402.5 428.8,395 430,390 431.8,395 433,412.5 434.5,422.5 436.2,430 437.5,420 439.2,440 440.2,470 441,486.2 442,457.5 443,420 444,395 445,390 447,390 448.8,390 450.5,395 452,407.5 453.2,402.5 455,414.5 456.8,402.5 458.2,392.5 459.5,390 460,386.8 461.2,360 462.5,350 464.5,345 466.2,335 467.5,322.5 468.5,313.8 469.5,325 471.2,345 473,342.5 475,341.2 477,347.5 478.8,360 480.5,362.5 482.5,367.5 484.5,375 486.2,357.5 488,350 489.2,347 490.8,355 492.5,365 494.5,380 496.2,386.8 496.8,390.5 498,400 500,407.5 502,415 503.8,412.5 505.5,420 507,426.2 508.8,422.5 510.5,431.2 512,427.5 513.2,445 514.5,461.2 516.2,452.5 518,445 519.5,443 520,443.8 522,440 523.8,427.5 525.5,420 527.5,465 529.5,490 531.2,445 533,440 535,432.5 536.8,425 538.2,420 540,407.5 541.2,398.6 541.8,395 542.5,360 543,352 543.8,340 545,332.5 546.8,335 548.2,325 550,317.5 551.8,313.8 553.2,320 554.5,340 556.2,352.5 557.5,335 558.8,326.2 560,326.2 561.2,335 562.5,330 563.8,352.5 565,370 566.2,403.4 566.8,410 567.5,420 570,495 571.2,540 573,482.5 575,445 577,412.5 578.8,410 580.8,415 582.5,422.5 584.2,415 585.8,437.5 587.5,430 589.2,415 590.8,423.8 592.5,407.5 594,396.8 594.2,395 594.8,390.3 595.1,376.9 595.8,360 597,345 598.8,342.5 600,350 601.2,370 602.5,392.1 603,394.3 603.8,397.5 605.8,402.5 607.5,400 609.2,405 610.8,412.5 612.5,410 614.2,425 615.8,450 617,458.8 618.8,452.5 620,432.5 621.8,415 623.2,395 624.5,390 629.5,390 630,386.8 631.2,352.5 632.5,340 634.2,338.8 635.8,345 637.5,341.2 639.5,342.5 641.2,335 642.5,327.5 644,326.2 645.8,335 647.5,340 648.8,357.5 650,370 651.8,380 653.2,386.8 655,382.5 656.8,375 658.8,386.8 659.2,388.8 664.5,388.8 665,386.8 666.2,360 667.5,345 669.2,335 670.8,338.8 672.5,336.2 674.5,340 676.2,345 678,352.5 680,357.5 681.8,355 683.2,362.5 685,345 686.2,325 687.5,315 689,313.8 690.5,320 692,340 693.2,357.5 694.5,365 695.8,360 697,335 698.8,315 700.5,302.5 702,285 703.8,270 705.2,258 706.2,255.5 707.5,262.5 708.8,272.5 710.5,282.5 712,287.5 713.8,288.8 715.5,286.2 717.5,280 719,276.2 720.5,290 722,305 723.8,322.5 725,340 726.2,350 727.5,340 729.2,334.5 730.8,337.5 732.5,345 734.2,355 735.8,360 737.5,347.5 739,338.8 740.5,350 742,352.5 743.8,365 745,375 746.2,365 748,357.5 749.5,350 750,345 751.2,335 753,326.2 754.5,340 755.8,357.5 757,386.8 758.8,402.5 760,420 763.8,420 765,395 766.2,403.9 766.8,407.5 768,417.9 768.2,420 770,430 771.2,435 772,432 772.5,430 773.8,422.9 774.2,420 775.5,409.6 775.8,407.5 777.5,395 778.8,387 779.5,386.8 780.5,400 781.2,406.2 782,412.5 782.5,414.6 783.8,420 785,426.2 786.2,420 787.5,412.5 788.8,410 790,423.8 790.8,414 791.2,407.5 791.8,393.7 792,382.4 793,365 794.5,345 796.2,332.5 798,325 799.5,328.8 801.2,337.5 802.5,333.8 803.8,342.5 805.5,338.8 807,345 808.8,347.5 810,365 811.2,357.5 812.5,350 813.8,355 815,365 816.2,386.8 816.8,390.5 818,402.5 820,407.5 822,411.2 823.8,408.8 825.8,418.8 827.5,415 829.5,415 831.2,418.8 833.2,411.2 835,412.5 837,417.5 838.8,422.5 840.5,415 842.5,402.5 844.2,395 845.8,400 847,400 848.2,392.9 848.8,413.5 849.5,445 851.2,477.5 852.5,505 853.8,482.5 855,432.5 856.2,395 857,420 858.2,458.8 859.5,420 860.5,395 861.8,390 863.8,420 865,445 866.2,473.8 867.5,465 869.2,445 870.8,432.5 872.5,415 874.2,416.2 875.8,412.5 877.5,417.5 879.2,400 880.8,402.5 882.5,395 884.2,390 885,390 885.8,390 886.2,386.8 887.5,367.5 889.2,368.8 890.8,380 892,386.8 892.5,390 898.8,390 900,402.5 900.8,390 901.8,390 903,407.5 904.2,432.5 905,445 906.2,435 907.5,415 908,407 908.8,395 909,393.4 910,373.7 910.5,370.5 912.5,368.8 915,371.2 918,374.5 920,372 921.8,374.5 923.2,352.5 925,330 926.5,313.8 928,320 929.5,322.5 931.2,325 933,327.5 934.5,325 936.2,331.2 938,322.5 939.2,321.2 940.8,332.5 942.5,345 943.8,350 945,340 946.2,320 947.5,307.5 949.2,303.8 950.8,307.5 952.5,315 954.2,325 955.8,335 957.5,338.8 959.2,341.2 960.8,337.5 962.5,330 964.2,315 965.8,306.2 967,322.5 968.8,340 970,350 971.8,340 973.2,350 975,365 976.8,375 978.2,386.8 979.5,389.5 980,386.8 981.2,382.5 982.5,381.2 983.8,390 985,397.1 985.5,400 986.2,397.5 987,395 987.5,391.7 988.2,386.8 990,372.5 991.2,363.8 992.5,362.5 993.8,372.5 995,385 995.5,387 996.2,394.6 997,402.5 997.5,401.8 998.8,400 999.2,397.1 1000,392.9 1000.5,385.5 1001.2,393.8 1002,397.5 1002.5,397.9 1003.8,398.8 1004.2,399.8 1005.5,402.5 1005.8,404.6 1007,415 1008.2,423.8 1009.5,412.5 1010.8,386.8 1012,372.5 1013.8,371.2 1015.5,375 1017,371.2 1018.8,372.5 1020,376.2 1021.8,367.5 1023,364.5 1024.5,375 1026.2,376.2 1028,375 1030,376.2 1031.2,365 1032.5,340 1033.8,322.5 1035.5,322.5 1037,323.8 1038.2,316.2 1039.5,340 1041.2,347.5 1043,355 1044.5,357.5 1046.2,362.5 1048,361.2 1050,363.8 1051.8,367.5 1053,375 1054.2,370 1055.8,369.5 1057.5,375 1059.2,378.8 1061.2,382.5 1062,393 1062.5,400 1063.2,407.5 1063.8,412.5 1064.5,413.8 1065.5,410.2 1066.2,407.5 1067,405.4 1068,402.5 1068.8,399.7 1070,395 1070.5,393.6 1071.8,390 1072.5,390 1073.2,385.7 1074.2,380 1076.2,370 1078,367.5 1079.5,367 1080.8,380 1081.2,384 1082,390.3 1083,395.7 1083.8,400 1085,403.6 1085.5,405 1087,410 1087.5,410.7 1088.8,412.5 1089.2,412.5 1090,405 1090.8,397.5 1091.8,392.5 1092,394.2 1093.2,402.5 1095,420 1096.2,428.8 1097.5,415 1099.2,407.5 1100.8,420 1101.2,424 1102,430 1103,427.1 1103.8,425 1105,410 1106.2,402.9 1106.8,400 1108,405.2 1108.2,406.2 1109.5,401.8 1110,400 1111.2,401.8 1111.8,402.5 1113,398.3 1113.2,397.5 1115,392.5 1116.8,386.8 1118.2,372.5 1120,365 1121.8,362.5 1123.2,363.8 1125,360 1126.8,357.5 1128,354.5 1129.2,360 1130.8,365 1132,375 1133,385 1133.2,387.5 1135,392.5 1136.8,402.5 1138.2,410 1140,405 1141.8,395 1143,375 1144.5,357.5 1146.2,347.5 1148,340 1150,333.8 1152,328 1153.8,335 1155,340 1156.2,347.5 1157.5,360 1158.8,382.5 1160,395 1161.8,412.5 1163.2,423.8 1165,420 1166.2,442.5 1167.5,452 1169.2,440 1170.8,420 1172,420 1172.5,421 1173.2,430 1174.5,433.8 1175.8,415 1176.2,409.3 1177.5,395 1179,375.5 1179.2,376.3 1180.5,380.5 1180.8,382.9 1181.5,395.6 1182.5,407.5 1184.5,422.5 1186.2,420 1188,417.5 1188.8,425 1189.5,432.5 1190.5,439.6 1191.2,445 1192.5,453.8 1194.2,450 1195.8,445 1196.2,442.9 1197.5,437.5 1199.2,420 1199.5,417.9 1200.8,407.5 1202,420 1203.8,445 1205,457.5 1205.5,462.5 1207.5,467.5 1209.5,477.5 1211.2,486.2 1213,487.5 1213.8,487.5" fill="none" stroke="#eab308" stroke-opacity="0.85" stroke-width="1.45" stroke-linejoin="round"/>
<path d="M77.5,386.8 L77.5,386.2 79,377 80.2,384.5 81.2,386.2 83.8,387.5 86.2,390 88,395 89.5,415 91.2,440 93.8,427.5 96.2,412.5 98.8,390 100,388 103.8,387.5 105.5,385 106.5,372.5 107.5,362.5 108.8,377.5 110,405 112,402.5 113.8,403.8 115.5,400 117.5,390 119.5,380 121.2,385 122.5,395 124.5,390 126.2,380 128.8,372.5 131.2,375 133.8,371.2 135,375 137,380 138.8,390 140.5,391.2 142.5,398.8 144.5,395 146.2,385 148,375 150,376.2 151.8,365 153,355 154.2,375 156.2,378.8 158.8,380 160.8,377.5 162.5,387.5 164.5,397.5 166.5,405 168.2,397.5 170,390 171.2,380 172.5,362.5 173.8,360 175,368.8 176.2,360 177.5,352.5 179.5,342.5 180.8,330 182,307.5 183,297.5 184.2,317.5 185.8,345 187.5,365 188.8,375 190.5,372.5 192,380 193.8,383.8 195,371.2 197,382.5 198.8,375 200.5,382.5 202.5,375 204.5,360 206.2,362.5 208,367.5 209.5,372.5 211.2,393.8 213,382.5 215,390 217,380 218.8,372.5 220.5,377.5 222,385 223.8,375 225,372.5 227,377.5 228.8,385 230,380 232,375 233.8,380 235,367.5 237,355 238.8,332.5 240.5,328.8 242,333.8 243.8,357.5 245.5,365 247,390 248.8,411.2 250.5,400 252,378.8 253.8,382.5 255.5,392.5 257.5,385 259.5,375 261.2,367.5 263,370 265,375 267,387.5 268.8,396.2 270.5,390 272.5,387.5 274.2,396.2 275.5,380 277,362.5 278.2,342.5 279.5,365 281.2,375 283,372.5 285,362.5 286.2,355 287.5,341.2 288.8,352.5 290,365 291,383 291.2,393.7 291.8,407.5 292.8,427.5 293,428.8 293.8,432.5 295,432.5 295.5,428.1 297,415 298.8,407.5 300,402.1 300.5,400 301.8,393.8 302,392.5 303.2,400 303.8,402.9 305,415 306.2,423.8 307,415 307.5,409.3 308.8,395 310,380 311.2,365 313,352.5 315,350 316.2,357.5 317.5,380 318.8,390 320,383.8 322,385 323.8,382.5 325,377.5 327,360 328.8,345 330.5,340 332.5,338.8 334,337.5 335.5,345 337,350 338.8,365 340,375 342,377.5 343.8,376.2 345.5,386.8 347,390 347.5,391.3 348.8,394.5 350,388.8 351.2,380 352.5,365 354.5,345 356.2,327.5 357.5,326.2 358.8,340 360,352.5 361.2,340 362.5,328.8 363.8,340 365,357.5 367,362.5 368.8,357.5 370.5,350 372,346.2 373.8,352.5 375.5,357.5 376.2,368.8 377,406.7 377.5,420 378,424.4 379.5,437.5 380.8,427.5 382,447.5 382.5,453.1 383,458.8 383.8,442.8 384,437.5 385,407.5 385.8,382.7 386.2,380 387.5,390 388.8,386.8 390,365 391.2,347.5 392,343.8 393.2,350 395,360 397,370 398.8,380 400,375 401.2,405 401.8,414.2 402,418.8 403,411.8 403.2,410 405,410 406.8,396.9 407,395 407.5,387.5 408,380 409,360 410,348.8 411.2,357.5 412.5,370 414.2,380 415.8,377.5 416.2,380.1 417,420 417.5,431.2 418,442.5 418.8,435 419.2,430 420.5,427.9 420.8,427.5 422,420 422.5,415 423.2,407.5 423.8,399.2 424,395 424.5,386 425,380 426.8,370 428.2,358.8 429.5,356.2 430.8,365 432,377.5 433.2,397.5 433.8,400.7 435,410 436.8,405.6 437,405 438.2,410.4 438.8,412.5 439.5,415 440,428.8 440.5,442.5 441.2,429 441.8,420 442.5,408 443,400 443.8,360 444.2,355 445,347.5 446.8,343.8 448.2,350 449.5,370 450,374 450.8,380 452,393.8 453.8,397.5 455,392.5 456.2,385 457.5,380 458.8,390 460,375 461.2,357.5 462.5,352.5 464.2,358.8 465.8,362.5 467,350 468.5,345 470,357.5 471.2,380 472.5,395 474.5,390 476.2,391.2 478,391.2 480,392.5 482,392.5 483.8,385 485,372.5 487,367.5 488.8,365 490.5,372.5 492,380 493.8,395 495.5,405 496.8,416.2 497,415 498,407 498.2,405 499.5,397.9 500,398.2 501.2,400 502,397.9 503,395 503.8,394.1 505,392.5 505.5,393.1 507,395 507.5,393.8 509,390.9 509.5,391.2 511,395.4 511.2,396.2 512.5,391.2 514,407.5 514.2,410.6 515,420 516.2,411.1 516.8,407.5 518,405 518.8,398.8 519.5,392.5 520,386.8 521.2,380 523,370 524.5,363.8 525.8,375 527,410.5 527.5,420 528.8,432.5 529,435 530.5,415 532,396.2 532.5,392.6 533.8,382.9 534.2,380 535.8,372.5 537.5,375 539.2,378.8 540.8,365 542.5,345 543.8,332.5 544.5,330 545.8,340 547,350 548.2,355 550,353.8 551.8,357.5 553.2,365 555,386.8 556.8,402.5 558,390 559.2,380 560.8,365 562,370 563.2,385 563.8,387.1 565,392.5 566.2,408.6 566.8,415 568,440 568.8,455 570,483.6 570.5,495 571.8,513.8 572.2,475 572.5,451.2 572.8,427.5 573.2,397.5 573.8,380 575,357.5 576.2,345 578,342.5 579.5,350 580.8,365 582.5,375 583.8,384.8 584,389.4 585.5,405 587,392.5 588,389.2 588.8,380.8 589,378.8 590,375 591,383.8 592,372.5 593.2,370 594.5,373.8 595.8,360 597.2,345 598.8,343.8 600,357.5 601.2,380 602.5,420 603.8,414.6 604.2,412.5 605.8,407.5 607.5,410 609.2,407.5 610.8,397.5 612.5,402.5 614.2,415 615.8,423.8 617,419.3 617.5,417.5 618.8,407.5 619.5,395 620,375 622,370 623.8,362.5 625,357.5 626.8,355 628.2,370 629.5,386.8 630.8,365 632,352.5 633.2,348.8 634.5,360 636.2,367.5 638,375 640,370 641.8,377.5 643.2,370 645,367.5 646.8,377.5 647.5,383.8 648.2,396.2 648.8,402.5 650,416 650.2,418.8 651.8,417.5 653.2,402.5 654.5,391.2 655,386.8 656.2,375 657.5,372.5 658.8,386.8 660,402.5 661.5,411.1 661.8,412.5 662.5,402 663,395 663.8,385 664.5,375 666.2,357.5 667.5,347.5 668.8,345 670,352.5 671.8,362.5 673.2,370 675,380 676.8,386.8 678,395.7 678.2,397.5 679.2,398.8 680,394.2 680.5,391.2 681.8,386.8 683.2,380 685,375 686.2,365 688,358.8 689.5,370 690.8,386.8 692.5,400 694.2,410.5 695.8,402.5 697,375 698.2,357.5 699.5,352.5 700.8,355 702.5,340 704.2,317.5 705.5,305 706.8,322.5 708,340 709.5,350 710.8,360 712,362.5 713.8,370 715.5,365 717,357.5 718.8,350 720,357.5 721.2,370 722,374.3 723,395.8 723.8,402.5 724.5,408.6 725.5,416.8 725.8,415 727,404.3 727.5,400 728.2,392.1 728.8,386.8 730.5,380 732,376.2 733.8,382.5 735.5,387.5 737,380 738.8,385 740.5,380 742,365 743.2,363.8 744.5,375 745.8,386.8 747.5,375 749.2,365 749.5,360 750,350 751.2,347.5 752.5,346.2 753.8,357.5 755,380 756.2,407.5 757.5,427.5 758.2,435 759.2,425 759.5,422.5 761.2,428.8 762.5,407.5 763.8,380 765,371.2 766.2,382.5 767.5,390 769.2,395 771.2,400 773,395 774.5,387.5 776.2,375 778,360 780,357.5 781.2,351.2 782.5,360 783.8,407.5 785,417.5 786.8,415 788,402.5 789.5,405 790.8,395 792,375 793.8,357.5 795,347.5 796.2,343.8 797.5,352.5 798.8,350 800,365 801.8,376.2 803.2,380 804.5,392.5 806.2,382.5 808,377.5 809.5,385 810,417.5 810.8,410 811.2,402.5 811.8,395 812.5,377 813,365 814.2,351.2 815.5,365 816.2,380 816.8,395.1 817.5,407.5 818.2,412.3 819.2,418.8 820,413.1 820.8,408.8 822,403.9 822.5,402.5 823.8,398.9 824.2,397.5 825,400 825.8,401.2 826.8,397.7 827.5,395 828.8,393.4 829.5,392.5 830.5,386.2 831.2,387.7 832.5,390 833.2,391.2 834.2,382.5 835,381.2 835.8,380 837.5,385 839.2,390 840.8,382.5 842.5,378.8 844.2,382.5 845.8,387.5 847.5,407.5 849.2,430 850.8,436.2 852,424.6 852.5,420 853.2,405 853.8,395 854.5,377.5 855.8,362.5 857,353.8 858.2,370 859.5,380 860.8,358.8 861.8,375.8 862,380 863.2,407.5 865,432.5 866.2,443.8 867.5,420 869.2,402.5 870.8,386.8 872,372.5 873.2,366.2 875,370 876.2,376.2 877.5,382.5 878.8,375 880,371.2 881.2,380 882.5,386.8 883.8,382.5 885,365 886,361.2 887.5,375 888.8,380 890,385 890.5,389 891.2,399.2 891.8,407.5 892.5,412.8 893,416.2 894.2,415 895,412.5 895.8,405 896.2,399 897,390.1 897.5,385 898,380 899,395 899.2,393.8 900.5,395 900.8,393.4 901.8,394.3 902.5,400 903,408 903.8,420 904.5,426 905,430 906.2,420 907.5,402.5 908.8,380 910,365 911.2,355 912.5,348 913.8,350 915,365 916.2,375 918,380 919.5,385 921.2,386.8 922.5,375 923.8,360 925,350 926.2,346.2 927.5,357.5 928.8,367.5 930,370 931.8,375 933.2,376.2 935,370 936.8,375 938.2,376.2 940,382.5 941.2,390 943,397.5 944.5,386.8 945.8,365 947,352.5 948.8,350 950,353.8 951.8,362.5 953.2,372.5 955,380 956.8,387.6 958.2,383.8 960,387.8 961.8,382.5 963.2,377.5 964.5,365 965.8,352.5 967,360 968.8,380 970,390 971.8,381.2 973.2,385 975,397.5 976.8,405 978,411.2 978.2,411.2 979.5,402.5 980,400 981.2,390 981.8,390 982.5,392.5 983.2,395 984.5,390 985.8,386.8 987.5,380 989.2,370 990.8,362.5 992,361.2 993.2,367.5 994.2,380 995,389 995.5,395 996.2,405 996.8,405 998,400.8 998.2,400 999.5,390 1000.5,383.8 1001.8,392.5 1003.2,395 1005,390 1006.2,395 1007.5,402.5 1008.8,400 1010,386.8 1011.2,372.5 1012.5,368.8 1013.8,372.5 1015.5,376.2 1017,377.5 1018.8,382.5 1020,390 1021.2,382.5 1022.5,378.8 1024.2,385 1025.8,387.5 1027.5,383.8 1029.2,385 1030.8,380 1032,360 1033.2,347.5 1034.5,350 1035.8,360 1037,356.2 1038.2,355 1039.5,370 1041.2,375 1043,380 1044.5,390 1046.2,392.5 1048,388.8 1050,386.2 1051.8,387.5 1053,396.2 1054.2,390 1055.8,382.5 1057.5,383.8 1059.2,385 1060.8,386.8 1061.2,392.1 1062,400 1062.5,403.2 1063.8,411.2 1065.5,402.5 1067,397.5 1068.8,390 1070,382.9 1070.5,380 1072,375 1073.8,372.5 1075,365 1076.2,361.2 1077.5,370 1079.2,375 1080.8,382.5 1081.2,385.5 1082,390.8 1083,396.2 1083.8,397.7 1085,400 1085.5,401.9 1087,407.5 1088.8,410 1090,400 1091.2,390 1092.5,385 1093.8,392.5 1095,402.5 1096.8,405 1098.2,395 1099.5,400 1101.2,401.2 1103,395 1104.5,390 1105.8,380 1107,376.2 1108.8,377.5 1110,376.2 1111.8,382.5 1113.2,385 1115,383.8 1116.8,377.5 1118.2,370 1119.5,368.8 1121.2,372.5 1123,376.2 1125,377.5 1126.8,380 1128.2,382.5 1129.2,385.4 1130,388 1131.2,390 1131.8,390 1133,389 1133.2,390.6 1134.5,400 1135,400.7 1136.2,402.5 1136.8,403.2 1138,405 1138.2,405 1139.5,397.9 1140,395 1140.8,386 1141.2,380 1143,370 1144.5,357.5 1146.2,348.8 1147.5,351.2 1149.2,355 1151.2,353.8 1152.5,357.5 1154.2,365 1155.8,375 1156.2,381 1157,396.2 1157.5,402.5 1158.2,422 1158.8,435 1159.5,446.2 1160.5,420 1161.2,416.2 1162,412.5 1162.5,414.5 1163.2,417.5 1164.2,417.5 1164.5,416.2 1165.8,420 1167,426.2 1168.2,416.4 1168.8,415 1169.5,406 1170,400 1171.2,390 1172.5,387.5 1173.8,392.5 1175,386.8 1176.2,377.5 1178,375 1179.2,365 1180.8,356.2 1182,365 1183.2,380 1183.8,386 1184.5,397.7 1185,405 1185.8,407.5 1186.2,407.5 1187,403 1187.5,400 1188.8,391.2 1190,400 1191.8,412.5 1193,422.5 1193.2,420.4 1194.5,412.9 1195,410 1196.2,395.7 1196.8,390.2 1197.5,382.5 1198,377.5 1199.2,367.5 1200,363.8 1201.2,372.5 1202.5,385 1203,391 1203.8,400 1204.2,403.6 1205.5,415 1205.8,417.5 1207.5,422.5 1209.5,420 1211.2,421.2 1212.5,416.8 1213,415 1213.8,416.2 L1213.8,386.8 Z" fill="#a010d6" fill-opacity="0.5" stroke="none"/>
<path d="M77.5,386.2 79,377 80.2,384.5 81.2,386.2 83.8,387.5 86.2,390 88,395 89.5,415 91.2,440 93.8,427.5 96.2,412.5 98.8,390 100,388 103.8,387.5 105.5,385 106.5,372.5 107.5,362.5 108.8,377.5 110,405 112,402.5 113.8,403.8 115.5,400 117.5,390 119.5,380 121.2,385 122.5,395 124.5,390 126.2,380 128.8,372.5 131.2,375 133.8,371.2 135,375 137,380 138.8,390 140.5,391.2 142.5,398.8 144.5,395 146.2,385 148,375 150,376.2 151.8,365 153,355 154.2,375 156.2,378.8 158.8,380 160.8,377.5 162.5,387.5 164.5,397.5 166.5,405 168.2,397.5 170,390 171.2,380 172.5,362.5 173.8,360 175,368.8 176.2,360 177.5,352.5 179.5,342.5 180.8,330 182,307.5 183,297.5 184.2,317.5 185.8,345 187.5,365 188.8,375 190.5,372.5 192,380 193.8,383.8 195,371.2 197,382.5 198.8,375 200.5,382.5 202.5,375 204.5,360 206.2,362.5 208,367.5 209.5,372.5 211.2,393.8 213,382.5 215,390 217,380 218.8,372.5 220.5,377.5 222,385 223.8,375 225,372.5 227,377.5 228.8,385 230,380 232,375 233.8,380 235,367.5 237,355 238.8,332.5 240.5,328.8 242,333.8 243.8,357.5 245.5,365 247,390 248.8,411.2 250.5,400 252,378.8 253.8,382.5 255.5,392.5 257.5,385 259.5,375 261.2,367.5 263,370 265,375 267,387.5 268.8,396.2 270.5,390 272.5,387.5 274.2,396.2 275.5,380 277,362.5 278.2,342.5 279.5,365 281.2,375 283,372.5 285,362.5 286.2,355 287.5,341.2 288.8,352.5 290,365 291,383 291.2,393.7 291.8,407.5 292.8,427.5 293,428.8 293.8,432.5 295,432.5 295.5,428.1 297,415 298.8,407.5 300,402.1 300.5,400 301.8,393.8 302,392.5 303.2,400 303.8,402.9 305,415 306.2,423.8 307,415 307.5,409.3 308.8,395 310,380 311.2,365 313,352.5 315,350 316.2,357.5 317.5,380 318.8,390 320,383.8 322,385 323.8,382.5 325,377.5 327,360 328.8,345 330.5,340 332.5,338.8 334,337.5 335.5,345 337,350 338.8,365 340,375 342,377.5 343.8,376.2 345.5,386.8 347,390 347.5,391.3 348.8,394.5 350,388.8 351.2,380 352.5,365 354.5,345 356.2,327.5 357.5,326.2 358.8,340 360,352.5 361.2,340 362.5,328.8 363.8,340 365,357.5 367,362.5 368.8,357.5 370.5,350 372,346.2 373.8,352.5 375.5,357.5 376.2,368.8 377,406.7 377.5,420 378,424.4 379.5,437.5 380.8,427.5 382,447.5 382.5,453.1 383,458.8 383.8,442.8 384,437.5 385,407.5 385.8,382.7 386.2,380 387.5,390 388.8,386.8 390,365 391.2,347.5 392,343.8 393.2,350 395,360 397,370 398.8,380 400,375 401.2,405 401.8,414.2 402,418.8 403,411.8 403.2,410 405,410 406.8,396.9 407,395 407.5,387.5 408,380 409,360 410,348.8 411.2,357.5 412.5,370 414.2,380 415.8,377.5 416.2,380.1 417,420 417.5,431.2 418,442.5 418.8,435 419.2,430 420.5,427.9 420.8,427.5 422,420 422.5,415 423.2,407.5 423.8,399.2 424,395 424.5,386 425,380 426.8,370 428.2,358.8 429.5,356.2 430.8,365 432,377.5 433.2,397.5 433.8,400.7 435,410 436.8,405.6 437,405 438.2,410.4 438.8,412.5 439.5,415 440,428.8 440.5,442.5 441.2,429 441.8,420 442.5,408 443,400 443.8,360 444.2,355 445,347.5 446.8,343.8 448.2,350 449.5,370 450,374 450.8,380 452,393.8 453.8,397.5 455,392.5 456.2,385 457.5,380 458.8,390 460,375 461.2,357.5 462.5,352.5 464.2,358.8 465.8,362.5 467,350 468.5,345 470,357.5 471.2,380 472.5,395 474.5,390 476.2,391.2 478,391.2 480,392.5 482,392.5 483.8,385 485,372.5 487,367.5 488.8,365 490.5,372.5 492,380 493.8,395 495.5,405 496.8,416.2 497,415 498,407 498.2,405 499.5,397.9 500,398.2 501.2,400 502,397.9 503,395 503.8,394.1 505,392.5 505.5,393.1 507,395 507.5,393.8 509,390.9 509.5,391.2 511,395.4 511.2,396.2 512.5,391.2 514,407.5 514.2,410.6 515,420 516.2,411.1 516.8,407.5 518,405 518.8,398.8 519.5,392.5 520,386.8 521.2,380 523,370 524.5,363.8 525.8,375 527,410.5 527.5,420 528.8,432.5 529,435 530.5,415 532,396.2 532.5,392.6 533.8,382.9 534.2,380 535.8,372.5 537.5,375 539.2,378.8 540.8,365 542.5,345 543.8,332.5 544.5,330 545.8,340 547,350 548.2,355 550,353.8 551.8,357.5 553.2,365 555,386.8 556.8,402.5 558,390 559.2,380 560.8,365 562,370 563.2,385 563.8,387.1 565,392.5 566.2,408.6 566.8,415 568,440 568.8,455 570,483.6 570.5,495 571.8,513.8 572.2,475 572.5,451.2 572.8,427.5 573.2,397.5 573.8,380 575,357.5 576.2,345 578,342.5 579.5,350 580.8,365 582.5,375 583.8,384.8 584,389.4 585.5,405 587,392.5 588,389.2 588.8,380.8 589,378.8 590,375 591,383.8 592,372.5 593.2,370 594.5,373.8 595.8,360 597.2,345 598.8,343.8 600,357.5 601.2,380 602.5,420 603.8,414.6 604.2,412.5 605.8,407.5 607.5,410 609.2,407.5 610.8,397.5 612.5,402.5 614.2,415 615.8,423.8 617,419.3 617.5,417.5 618.8,407.5 619.5,395 620,375 622,370 623.8,362.5 625,357.5 626.8,355 628.2,370 629.5,386.8 630.8,365 632,352.5 633.2,348.8 634.5,360 636.2,367.5 638,375 640,370 641.8,377.5 643.2,370 645,367.5 646.8,377.5 647.5,383.8 648.2,396.2 648.8,402.5 650,416 650.2,418.8 651.8,417.5 653.2,402.5 654.5,391.2 655,386.8 656.2,375 657.5,372.5 658.8,386.8 660,402.5 661.5,411.1 661.8,412.5 662.5,402 663,395 663.8,385 664.5,375 666.2,357.5 667.5,347.5 668.8,345 670,352.5 671.8,362.5 673.2,370 675,380 676.8,386.8 678,395.7 678.2,397.5 679.2,398.8 680,394.2 680.5,391.2 681.8,386.8 683.2,380 685,375 686.2,365 688,358.8 689.5,370 690.8,386.8 692.5,400 694.2,410.5 695.8,402.5 697,375 698.2,357.5 699.5,352.5 700.8,355 702.5,340 704.2,317.5 705.5,305 706.8,322.5 708,340 709.5,350 710.8,360 712,362.5 713.8,370 715.5,365 717,357.5 718.8,350 720,357.5 721.2,370 722,374.3 723,395.8 723.8,402.5 724.5,408.6 725.5,416.8 725.8,415 727,404.3 727.5,400 728.2,392.1 728.8,386.8 730.5,380 732,376.2 733.8,382.5 735.5,387.5 737,380 738.8,385 740.5,380 742,365 743.2,363.8 744.5,375 745.8,386.8 747.5,375 749.2,365 749.5,360 750,350 751.2,347.5 752.5,346.2 753.8,357.5 755,380 756.2,407.5 757.5,427.5 758.2,435 759.2,425 759.5,422.5 761.2,428.8 762.5,407.5 763.8,380 765,371.2 766.2,382.5 767.5,390 769.2,395 771.2,400 773,395 774.5,387.5 776.2,375 778,360 780,357.5 781.2,351.2 782.5,360 783.8,407.5 785,417.5 786.8,415 788,402.5 789.5,405 790.8,395 792,375 793.8,357.5 795,347.5 796.2,343.8 797.5,352.5 798.8,350 800,365 801.8,376.2 803.2,380 804.5,392.5 806.2,382.5 808,377.5 809.5,385 810,417.5 810.8,410 811.2,402.5 811.8,395 812.5,377 813,365 814.2,351.2 815.5,365 816.2,380 816.8,395.1 817.5,407.5 818.2,412.3 819.2,418.8 820,413.1 820.8,408.8 822,403.9 822.5,402.5 823.8,398.9 824.2,397.5 825,400 825.8,401.2 826.8,397.7 827.5,395 828.8,393.4 829.5,392.5 830.5,386.2 831.2,387.7 832.5,390 833.2,391.2 834.2,382.5 835,381.2 835.8,380 837.5,385 839.2,390 840.8,382.5 842.5,378.8 844.2,382.5 845.8,387.5 847.5,407.5 849.2,430 850.8,436.2 852,424.6 852.5,420 853.2,405 853.8,395 854.5,377.5 855.8,362.5 857,353.8 858.2,370 859.5,380 860.8,358.8 861.8,375.8 862,380 863.2,407.5 865,432.5 866.2,443.8 867.5,420 869.2,402.5 870.8,386.8 872,372.5 873.2,366.2 875,370 876.2,376.2 877.5,382.5 878.8,375 880,371.2 881.2,380 882.5,386.8 883.8,382.5 885,365 886,361.2 887.5,375 888.8,380 890,385 890.5,389 891.2,399.2 891.8,407.5 892.5,412.8 893,416.2 894.2,415 895,412.5 895.8,405 896.2,399 897,390.1 897.5,385 898,380 899,395 899.2,393.8 900.5,395 900.8,393.4 901.8,394.3 902.5,400 903,408 903.8,420 904.5,426 905,430 906.2,420 907.5,402.5 908.8,380 910,365 911.2,355 912.5,348 913.8,350 915,365 916.2,375 918,380 919.5,385 921.2,386.8 922.5,375 923.8,360 925,350 926.2,346.2 927.5,357.5 928.8,367.5 930,370 931.8,375 933.2,376.2 935,370 936.8,375 938.2,376.2 940,382.5 941.2,390 943,397.5 944.5,386.8 945.8,365 947,352.5 948.8,350 950,353.8 951.8,362.5 953.2,372.5 955,380 956.8,387.6 958.2,383.8 960,387.8 961.8,382.5 963.2,377.5 964.5,365 965.8,352.5 967,360 968.8,380 970,390 971.8,381.2 973.2,385 975,397.5 976.8,405 978,411.2 978.2,411.2 979.5,402.5 980,400 981.2,390 981.8,390 982.5,392.5 983.2,395 984.5,390 985.8,386.8 987.5,380 989.2,370 990.8,362.5 992,361.2 993.2,367.5 994.2,380 995,389 995.5,395 996.2,405 996.8,405 998,400.8 998.2,400 999.5,390 1000.5,383.8 1001.8,392.5 1003.2,395 1005,390 1006.2,395 1007.5,402.5 1008.8,400 1010,386.8 1011.2,372.5 1012.5,368.8 1013.8,372.5 1015.5,376.2 1017,377.5 1018.8,382.5 1020,390 1021.2,382.5 1022.5,378.8 1024.2,385 1025.8,387.5 1027.5,383.8 1029.2,385 1030.8,380 1032,360 1033.2,347.5 1034.5,350 1035.8,360 1037,356.2 1038.2,355 1039.5,370 1041.2,375 1043,380 1044.5,390 1046.2,392.5 1048,388.8 1050,386.2 1051.8,387.5 1053,396.2 1054.2,390 1055.8,382.5 1057.5,383.8 1059.2,385 1060.8,386.8 1061.2,392.1 1062,400 1062.5,403.2 1063.8,411.2 1065.5,402.5 1067,397.5 1068.8,390 1070,382.9 1070.5,380 1072,375 1073.8,372.5 1075,365 1076.2,361.2 1077.5,370 1079.2,375 1080.8,382.5 1081.2,385.5 1082,390.8 1083,396.2 1083.8,397.7 1085,400 1085.5,401.9 1087,407.5 1088.8,410 1090,400 1091.2,390 1092.5,385 1093.8,392.5 1095,402.5 1096.8,405 1098.2,395 1099.5,400 1101.2,401.2 1103,395 1104.5,390 1105.8,380 1107,376.2 1108.8,377.5 1110,376.2 1111.8,382.5 1113.2,385 1115,383.8 1116.8,377.5 1118.2,370 1119.5,368.8 1121.2,372.5 1123,376.2 1125,377.5 1126.8,380 1128.2,382.5 1129.2,385.4 1130,388 1131.2,390 1131.8,390 1133,389 1133.2,390.6 1134.5,400 1135,400.7 1136.2,402.5 1136.8,403.2 1138,405 1138.2,405 1139.5,397.9 1140,395 1140.8,386 1141.2,380 1143,370 1144.5,357.5 1146.2,348.8 1147.5,351.2 1149.2,355 1151.2,353.8 1152.5,357.5 1154.2,365 1155.8,375 1156.2,381 1157,396.2 1157.5,402.5 1158.2,422 1158.8,435 1159.5,446.2 1160.5,420 1161.2,416.2 1162,412.5 1162.5,414.5 1163.2,417.5 1164.2,417.5 1164.5,416.2 1165.8,420 1167,426.2 1168.2,416.4 1168.8,415 1169.5,406 1170,400 1171.2,390 1172.5,387.5 1173.8,392.5 1175,386.8 1176.2,377.5 1178,375 1179.2,365 1180.8,356.2 1182,365 1183.2,380 1183.8,386 1184.5,397.7 1185,405 1185.8,407.5 1186.2,407.5 1187,403 1187.5,400 1188.8,391.2 1190,400 1191.8,412.5 1193,422.5 1193.2,420.4 1194.5,412.9 1195,410 1196.2,395.7 1196.8,390.2 1197.5,382.5 1198,377.5 1199.2,367.5 1200,363.8 1201.2,372.5 1202.5,385 1203,391 1203.8,400 1204.2,403.6 1205.5,415 1205.8,417.5 1207.5,422.5 1209.5,420 1211.2,421.2 1212.5,416.8 1213,415 1213.8,416.2" fill="none" stroke="#a010d6" stroke-opacity="0.85" stroke-width="1.45" stroke-linejoin="round"/>
<path d="M77.5,545 79.5,540 81.2,543 83.8,543.8 86.2,544 88.2,545 90,552.5 91.2,572.5 92.5,578.8 93.8,577 95.5,578 97,579.5 99.2,575.8 101.2,578.8 103,579 105,579 106.2,572.5 107.5,565.5 108.8,565.5 110,575 111.2,580.5 113,581.2 114.5,580.5 116.2,582.5 118,582 120,579.5 121.8,581.2 123.2,582.5 124.5,586.2 125.8,581.2 127.5,577.5 128.8,574.2 130.8,573.2 132.5,572.5 134.2,568 136.2,566.8 138,570.8 140,572.5 142,572.5 143.8,577 146.2,575.8 148,570 150,568 151.8,565.5 152.8,558 154,562.5 156.2,561.2 158.2,560 160,558 161.8,558.8 163.8,562.5 165,567 166.8,570.8 168.8,570 170.8,568.8 172,560 173.2,553.8 175.8,552.5 177.5,543.8 179,539.5 180.5,537.5 181.8,530 182.5,515 183,502.5 183.8,499.5 186.2,502 188.8,499.5 191.2,497.5 193.8,495.5 195,490 197,496.2 198.8,492.5 201.2,492.5 203,487.5 205,478.8 207.5,475.5 210,477.5 212,482 213.8,480 215.5,481.2 217.5,475 220,477.5 222,480 223.8,473.8 226.2,471.2 228.8,474.5 231.2,470 233,471.2 235,465 237,457.5 238.8,445 240,433.8 242,426.2 243.8,427.5 245.5,425.5 247,430 248.8,440 251.2,442.5 253,433.8 255,436.2 257.5,442.5 260,432.5 262.5,427.5 265,427 267.5,430 269.5,433.8 271.2,432.5 273.8,438.8 276.2,433.8 278.2,418.8 280,428.8 282,426.2 285,422.5 287,411.2 288.8,412.5 290,409.5 292,420 293.8,432.5 296.2,433.8 298.8,437.5 300.5,443.8 302.5,442.5 304.2,447.5 305.8,455 306.8,458.8 308.2,452.5 310,443.8 312,441.2 313.8,437.5 315.5,432.5 316.8,430 318.2,436.2 320,432.5 322,433.8 323.8,432.5 325.8,432 327.5,428.8 328.8,417.5 329.5,410 331.2,402.5 333.8,392.5 335.8,385 337.5,376.2 339.2,377.5 340.8,376.2 342.5,375 344.5,377.5 346.2,380 348.2,382.5 350,380 351.8,370 353.2,355 354.5,340 355.8,327.5 357.5,325 359.5,325 361.2,315 362.5,307.5 364.2,306.2 366.2,302.5 368,297.5 370,290 372,285 373.8,280 375,278.8 376.2,283.8 377.5,296.2 379.2,300 380.8,298.8 382,307.5 383.2,315 384.5,317.5 385.8,308.8 387,312.5 388.2,311.2 390,300 391.8,290 393.2,288.8 395,290 396.8,288.8 398.8,288.8 400,297.5 401.8,305 403.2,307.5 405,302.5 406.8,300 408.8,292.5 410.5,286.2 412,290 413.8,288.8 415,293.8 416.2,301.2 417.5,312.5 419.2,311.2 420.8,317.5 422.5,322.5 424.2,321.2 426.2,312.5 428.2,307.5 430,306.2 431.8,308.8 433.8,315 435.5,320 437.5,318.8 439.2,327.5 440.8,342.5 442,343.8 443.2,332.5 445,320 447,317.5 448.8,318.8 450,325 452,326.2 453.8,330 455.5,326.2 457.5,327.5 459.5,317.5 461.2,307.5 463.2,303.8 465,298.8 466.8,293.8 468.2,288.8 470,291.2 472,298.8 473.8,296.2 475.5,293.8 477.5,296.2 479.5,298.8 481.2,298 483,300 485,293.8 487,290 488.8,286.2 490.8,286.2 492.5,291.2 494.2,292.5 496.2,293.8 497.5,300 499.5,301.2 501.2,305.5 503.2,306.2 505,310 507,312.5 509,311.2 510.8,315 512.5,315 514.2,323.8 515.8,328 517.5,328.8 519.5,328 521.5,329.5 523.2,321.2 524.5,320 526.2,326.2 527.5,340 528.8,350 530,356.2 531.8,348.8 533.2,350 535,345 536.8,346.2 538.8,347.5 540.5,340 542,327.5 543.8,315 545,311.2 546.8,313.8 548.2,307.5 550,302.5 551.8,300 553.2,301.2 555,307.5 556.8,312.5 558,302.5 559.5,297.5 560.8,300 562,296.2 563.2,305 564.5,307.5 565.8,315 567.5,320 569.2,330 570.8,350 572,367.5 573.2,357.5 575,345 577,332.5 578.8,331.2 580.5,337.5 582,335 583.8,333.8 585.5,340 587,342.5 588.8,337.5 590.5,338.8 592,335 593.8,333.8 595,327.5 596.8,320 598.2,315.8 600,316.2 601.2,322.5 602.5,335 604.2,336.2 605.8,340 607.5,341.2 609.2,345 610.8,341.2 612.5,347.5 614,352.5 615.8,360 617.5,363.8 619.2,357.5 620.8,350 622.5,348.8 624.5,342.5 626.2,336.2 628,335 629.5,340 630.8,331.2 632.5,322.5 634.5,320 636.2,321.2 638,318.8 640,318.8 641.8,316.2 643.2,310 645,308.8 646.8,310 648.2,317.5 650,325 651.8,330 653.8,326.2 655.5,322.5 657.5,318.8 659.2,326.2 660.8,330 662,333.8 663.8,322.5 665.5,321.2 667,312.5 668.8,306.2 670,300 672,300 673.8,298 675.5,298.8 677.5,301.2 679.2,306.2 680.8,302.5 682.5,301.2 684.2,300 685.8,293.8 687.5,283.8 689,281.2 690.8,286.2 692.5,292.5 694.5,296.2 696.2,295 697.5,285 698.8,275 700,267.5 701.8,265 703.2,255 703.8,245 705,230 706.2,222.5 708,218.8 709.5,220 711.2,215 713,216.2 714.5,211.2 716.2,208.8 717.5,202.5 718.8,195 720,190.5 721.8,192 723.2,196.2 724.5,200 725.5,206.2 727,201.2 728.8,197.5 730.5,196.2 732.5,197.5 734,195 735.8,198.8 737,190 738,184.5 739.5,188.8 741.2,187.5 743,192.5 744.2,196.2 745.8,190 747,185 748.8,186.2 750.5,181.2 752,176.2 753.2,170 754.2,166.2 755.5,175 756.8,187.5 758.2,196.2 759.5,193.8 760.8,198.8 762,202.5 763.2,196.2 764.5,192 766.2,196.2 768,200 770,203.8 771.8,207 773.8,205 775.5,198.8 777,195 778.8,192.5 780.5,187.5 782,186.2 783.2,192.5 784.2,201.2 785.5,206.2 787.5,203.8 789.2,202.5 790.8,207.5 792,198.8 793.8,191.2 795,183.8 796.2,177.5 798,174.2 799.5,173.2 801.2,175 802.5,172.5 803.8,176.2 805,172.5 806.8,173 808.2,172.5 809.5,185 810.8,180 812,181.2 813.2,171.2 814.5,173.8 816.2,180 817.5,187.5 818.8,195 820,190 821.8,193.8 823.8,194.5 825.5,197.5 827.5,195.5 829.2,195 831.2,197.5 833,196.2 835,193.8 837,196.2 838.8,198.8 840,200.8 841.8,196.2 843.2,193.2 845,196.2 846.8,198.8 848,201.2 849.2,218.8 850.5,227.5 852,235 853.2,243.8 854.5,230 855.8,220 857,215 858.2,235 859.5,220 860.8,216.2 862,222.5 863.8,230 865,237.5 866.2,245 867.5,248.2 869.5,245 871.2,242.5 873,240 874.5,236.2 876.2,238.8 878,241.2 879.5,236.2 880.8,232 882.5,236.2 884.2,233.8 885.8,226.2 887.5,225.8 889.5,226.2 890.8,232.5 892.5,238.8 894.2,241.2 895.8,243 897,236.2 898.2,235 899.5,240 900.8,240 902.5,242.5 903.8,250 905,258.8 907,257.5 908.2,250 910,243.8 911.8,237 913.8,235 915,233.8 916.8,237 918.2,235.5 920,235 921.8,233.8 923,235 924.5,222.5 925.8,210 926.8,205 928.2,207.5 930,204.5 931.8,203.8 933.8,203 935.5,202.5 937,198.8 938.8,195 940.5,197.5 942,202 943.8,203 945,197.5 946.2,187.5 947.5,180 949.2,176.2 950.8,175 952.5,177 954.2,176.2 955.8,178.8 957.5,175 959.5,176.2 961.2,173.8 962.5,172.5 964.2,165 965.8,155.5 967,158.8 968.8,163.8 970,165 971.8,160 973.2,160.8 975,165 976.2,170 978,174.2 980,172.5 981.8,170.8 983.2,172.5 985,175.5 986.8,176.2 988.2,172.5 990,167.5 991.8,160 993.2,160.8 995,167.5 996.2,173 998,171.2 999.5,166.2 1001.2,171.2 1003,173 1004.5,172.5 1006.2,176.2 1007.5,181.2 1008.5,183.8 1010,177.5 1011.2,170 1012.5,166.2 1014.2,165.5 1015.8,166.2 1017.5,165 1019.2,165.5 1020.5,168.8 1021.8,163.8 1023.2,160 1025,163.8 1026.8,162.5 1028.8,162.5 1030.5,162 1031.8,157.5 1033,145 1034.2,138.8 1035.8,138.2 1037,135 1038,132 1039.2,141.2 1040.5,137 1042,137.5 1043.8,138 1045.5,138.8 1047.5,137.5 1049.2,138 1051.2,137.5 1053,142.5 1054.2,138.8 1055.8,138 1057.5,137 1059.2,137.5 1060.8,138.8 1062.5,146.2 1063.8,150 1065.5,148.8 1067,146.2 1068.8,147.5 1070.5,143.8 1072,142.5 1073.8,141.2 1075,137 1076.2,132 1077.5,135 1078.8,131.2 1080.5,132.5 1082,137.5 1083.8,138.8 1085,142.5 1086.8,146.2 1088.2,148.8 1090,150 1091.2,146.2 1093,145 1094.5,150 1095.8,156.2 1097,158.8 1098.2,153.8 1099.5,152.5 1100.8,158.8 1102,162.5 1103.8,163 1105.5,162 1107,156.2 1108.2,153.8 1110,157 1111.8,155 1113.2,156.2 1115,153.8 1116.8,152.5 1118.2,148.8 1120,145 1121.8,143.8 1123.8,144.5 1125.5,142 1127.5,140 1129.2,142.5 1131.2,144.5 1132.5,145 1134.2,151.2 1135.8,150.8 1137.5,156.2 1138.8,160 1140.5,160 1141.8,157.5 1143.2,151.2 1144.5,148.8 1145.8,141.2 1147,133.8 1148.8,128.8 1150.5,125 1152,122.5 1153.8,125 1155.5,127.5 1157,130 1158.2,137.5 1159.2,153.8 1160.5,151.2 1161.8,146.2 1163,151.2 1164.5,153.8 1165.8,158.8 1167,167 1168.8,167 1170,163.8 1171.2,158 1172.5,160 1173.8,163.8 1175,160 1176.2,157.5 1178,154.5 1179.5,150 1180.8,145 1182,147.5 1183.2,152.5 1184.5,161.2 1186.2,159.5 1188,158 1189.2,158.8 1190.5,166.2 1191.8,175 1193,178.8 1194.5,179.5 1195.8,181.5 1197.5,180.5 1198.8,178 1200,168.8 1201.2,172.5 1202.5,176.2 1203.8,181.2 1205,191.2 1206.2,197.5 1208,201.2 1209.2,205 1210.5,210 1211.8,213 1213.2,215.5 1213.6,217.5" fill="none" stroke="#111" stroke-width="1.7" stroke-linejoin="round"/>
<line x1="71" x2="71" y1="100" y2="655.5" stroke="#1a1a1a" stroke-width="2"/>
<rect x="36.5" y="196.5" width="35" height="29.5" fill="#141414"/>
<rect x="1219.7" y="400.1" width="42.3" height="30" fill="#a010d6"/>
<rect x="1219.7" y="469.5" width="51.1" height="30" fill="#e9b714"/>
<rect x="1219.7" y="544.2" width="51.1" height="30" fill="#4d32e6"/>
<text y="45.6" font-family="Liberation Sans, sans-serif" font-size="24.5" font-weight="bold" fill="#111"><tspan x="378.40" textLength="53.42" lengthAdjust="spacingAndGlyphs">BTC:</tspan> <tspan x="437.72" textLength="120.30" lengthAdjust="spacingAndGlyphs">Age-Band</tspan> <tspan x="564.57" textLength="134.31" lengthAdjust="spacingAndGlyphs">UnRealized</tspan> <tspan x="706.25" textLength="43.69" lengthAdjust="spacingAndGlyphs">PnL</tspan> <tspan x="757.25" textLength="145.30" lengthAdjust="spacingAndGlyphs">Distribution</tspan></text>
<text y="77.9" font-family="Liberation Sans, sans-serif" font-size="16" fill="#808088"><tspan x="122.71" textLength="29.87" lengthAdjust="spacingAndGlyphs">LTH</tspan> <tspan x="155.80" textLength="27.51" lengthAdjust="spacingAndGlyphs">PNL</tspan> <tspan x="187.72" textLength="37.86" lengthAdjust="spacingAndGlyphs">(&gt;6m</tspan> <tspan x="229.65" textLength="60.31" lengthAdjust="spacingAndGlyphs">Holders)</tspan></text>
<text y="77.9" font-family="Liberation Sans, sans-serif" font-size="16" fill="#222"><tspan x="330.80" textLength="29.97" lengthAdjust="spacingAndGlyphs">STH</tspan> <tspan x="364.14" textLength="27.72" lengthAdjust="spacingAndGlyphs">PNL</tspan> <tspan x="396.50" textLength="37.07" lengthAdjust="spacingAndGlyphs">(&lt;6m</tspan> <tspan x="438.45" textLength="60.31" lengthAdjust="spacingAndGlyphs">Holders)</tspan></text>
<text y="77.9" font-family="Liberation Sans, sans-serif" font-size="16" fill="#222"><tspan x="540.17" textLength="31.44" lengthAdjust="spacingAndGlyphs">New</tspan> <tspan x="575.68" textLength="50.65" lengthAdjust="spacingAndGlyphs">Money</tspan> <tspan x="629.88" textLength="27.99" lengthAdjust="spacingAndGlyphs">PNL</tspan> <tspan x="662.89" textLength="51.36" lengthAdjust="spacingAndGlyphs">(1d-1m</tspan> <tspan x="718.66" textLength="59.90" lengthAdjust="spacingAndGlyphs">Holders)</tspan></text>
<text y="77.9" font-family="Liberation Sans, sans-serif" font-size="16" fill="#222"><tspan x="819.36" textLength="31.65" lengthAdjust="spacingAndGlyphs">New</tspan> <tspan x="856.65" textLength="62.75" lengthAdjust="spacingAndGlyphs">Investors</tspan> <tspan x="923.86" textLength="28.31" lengthAdjust="spacingAndGlyphs">PNL</tspan> <tspan x="956.79" textLength="49.36" lengthAdjust="spacingAndGlyphs">(1d-1w</tspan> <tspan x="1011.27" textLength="59.38" lengthAdjust="spacingAndGlyphs">Holders)</tspan></text>
<text x="1110.80" y="77.9" font-family="Liberation Sans, sans-serif" font-size="16" fill="#222" textLength="68.36" lengthAdjust="spacingAndGlyphs">BTC_Price</text>
<text x="24.17" y="113.9" font-family="Liberation Sans, sans-serif" font-size="16" fill="#222" textLength="35.23" lengthAdjust="spacingAndGlyphs">130K</text>
<text x="24.17" y="137.2" font-family="Liberation Sans, sans-serif" font-size="16" fill="#222" textLength="35.23" lengthAdjust="spacingAndGlyphs">120K</text>
<text x="24.14" y="162.5" font-family="Liberation Sans, sans-serif" font-size="16" fill="#222" textLength="35.09" lengthAdjust="spacingAndGlyphs">110K</text>
<text x="24.17" y="190.3" font-family="Liberation Sans, sans-serif" font-size="16" fill="#222" textLength="35.23" lengthAdjust="spacingAndGlyphs">100K</text>
<text x="32.65" y="221.0" font-family="Liberation Sans, sans-serif" font-size="16" fill="#222" textLength="26.61" lengthAdjust="spacingAndGlyphs">90K</text>
<text x="32.65" y="255.3" font-family="Liberation Sans, sans-serif" font-size="16" fill="#222" textLength="26.61" lengthAdjust="spacingAndGlyphs">80K</text>
<text x="32.65" y="294.2" font-family="Liberation Sans, sans-serif" font-size="16" fill="#222" textLength="26.61" lengthAdjust="spacingAndGlyphs">70K</text>
<text x="32.65" y="339.2" font-family="Liberation Sans, sans-serif" font-size="16" fill="#222" textLength="26.61" lengthAdjust="spacingAndGlyphs">60K</text>
<text x="32.65" y="392.3" font-family="Liberation Sans, sans-serif" font-size="16" fill="#222" textLength="26.61" lengthAdjust="spacingAndGlyphs">50K</text>
<text x="33.12" y="457.3" font-family="Liberation Sans, sans-serif" font-size="16" fill="#222" textLength="26.13" lengthAdjust="spacingAndGlyphs">40K</text>
<text x="32.65" y="541.1" font-family="Liberation Sans, sans-serif" font-size="16" fill="#222" textLength="26.61" lengthAdjust="spacingAndGlyphs">30K</text>
<text x="32.65" y="659.3" font-family="Liberation Sans, sans-serif" font-size="16" fill="#222" textLength="26.61" lengthAdjust="spacingAndGlyphs">20K</text>
<text x="1231.53" y="215.0" font-family="Liberation Sans, sans-serif" font-size="16" fill="#222" textLength="18.34" lengthAdjust="spacingAndGlyphs">20</text>
<text x="1231.74" y="389.7" font-family="Liberation Sans, sans-serif" font-size="16" fill="#222" textLength="9.02" lengthAdjust="spacingAndGlyphs">0</text>
<text x="125.64" y="680.0" font-family="Liberation Sans, sans-serif" font-size="12.5" fill="#6e6e78" textLength="51.55" lengthAdjust="spacingAndGlyphs">2023 Oct</text>
<text x="251.82" y="680.0" font-family="Liberation Sans, sans-serif" font-size="12.5" fill="#6e6e78" textLength="49.89" lengthAdjust="spacingAndGlyphs">2024 Jan</text>
<text x="374.42" y="680.0" font-family="Liberation Sans, sans-serif" font-size="12.5" fill="#6e6e78" textLength="52.29" lengthAdjust="spacingAndGlyphs">2024 Apr</text>
<text x="500.67" y="680.0" font-family="Liberation Sans, sans-serif" font-size="12.5" fill="#6e6e78" textLength="46.28" lengthAdjust="spacingAndGlyphs">2024 Jul</text>
<text x="623.14" y="680.0" font-family="Liberation Sans, sans-serif" font-size="12.5" fill="#6e6e78" textLength="51.55" lengthAdjust="spacingAndGlyphs">2024 Oct</text>
<text x="748.82" y="680.0" font-family="Liberation Sans, sans-serif" font-size="12.5" fill="#6e6e78" textLength="49.89" lengthAdjust="spacingAndGlyphs">2025 Jan</text>
<text x="870.42" y="680.0" font-family="Liberation Sans, sans-serif" font-size="12.5" fill="#6e6e78" textLength="52.29" lengthAdjust="spacingAndGlyphs">2025 Apr</text>
<text x="997.17" y="680.0" font-family="Liberation Sans, sans-serif" font-size="12.5" fill="#6e6e78" textLength="46.28" lengthAdjust="spacingAndGlyphs">2025 Jul</text>
<text x="1119.14" y="680.0" font-family="Liberation Sans, sans-serif" font-size="12.5" fill="#6e6e78" textLength="51.55" lengthAdjust="spacingAndGlyphs">2025 Oct</text>
<text x="1087.97" y="701.9" font-family="Liberation Sans, sans-serif" font-size="11.4" fill="#85858f" textLength="160.83" lengthAdjust="spacingAndGlyphs">© CryptoQuant. All rights reserved</text>
<text x="40.30" y="218.2" font-family="Liberation Sans, sans-serif" font-size="16" fill="#fff" textLength="26.61" lengthAdjust="spacingAndGlyphs">91K</text>
<text x="1224.05" y="422.2" font-family="Liberation Sans, sans-serif" font-size="16" fill="#fff" textLength="33.64" lengthAdjust="spacingAndGlyphs">-3.6*</text>
<text x="1224.56" y="491.2" font-family="Liberation Sans, sans-serif" font-size="16" fill="#fff" textLength="41.21" lengthAdjust="spacingAndGlyphs">-11.5*</text>
<text x="1224.58" y="565.8" font-family="Liberation Sans, sans-serif" font-size="16" fill="#fff" textLength="41.12" lengthAdjust="spacingAndGlyphs">-20.1*</text>
<line x1="123" x2="290" y1="71.8" y2="71.8" stroke="#808088" stroke-width="1.1"/>
<circle cx="110.5" cy="70.4" r="8.1" fill="#7a7587"/>
<circle cx="317.7" cy="70.3" r="8.1" fill="#7b6cf0"/>
<circle cx="526.9" cy="70.3" r="8.1" fill="#f0c850"/>
<circle cx="806.4" cy="70.3" r="8.1" fill="#b95ae2"/>
<line x1="1089" x2="1106.3" y1="72.8" y2="72.8" stroke="#111" stroke-width="1.6"/>
</svg>
</body></html>
